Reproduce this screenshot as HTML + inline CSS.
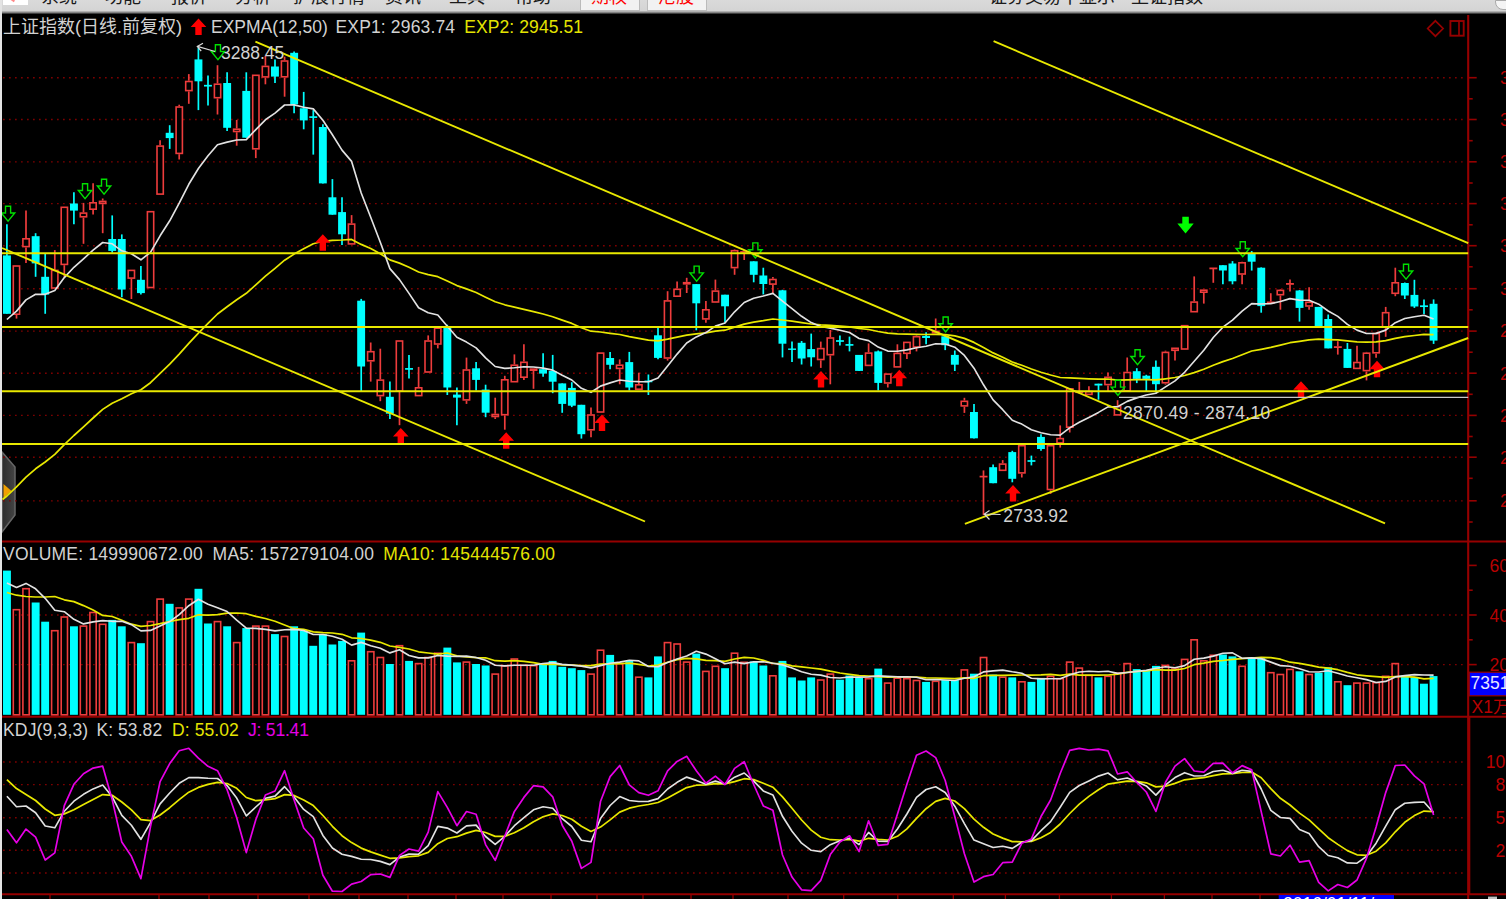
<!DOCTYPE html>
<html><head><meta charset="utf-8"><title>上证指数</title>
<style>
html,body{margin:0;padding:0;background:#000;}
body{width:1506px;height:899px;overflow:hidden;position:relative;font-family:"Liberation Sans","Noto Sans CJK SC",sans-serif;}
#top{position:absolute;left:0;top:0;width:1506px;height:14.5px;background:linear-gradient(#dadada 0,#d4d4d4 10.6px,#8a8a8a 12.4px,#000 14.4px);overflow:hidden;}
#top i{position:absolute;top:0;display:block;}
#top span{position:absolute;top:-12.3px;font-size:18px;line-height:18px;color:#1a1a1a;white-space:nowrap;}
#left{position:absolute;left:0;top:0;width:2.4px;height:899px;background:#e4e4e4;}
svg{position:absolute;left:0;top:0;}
.t{position:absolute;white-space:nowrap;font-size:17.5px;line-height:20px;color:#d2d2d2;}
</style></head><body>
<svg width="1506" height="899" viewBox="0 0 1506 899">
<defs><linearGradient id="tg" x1="0" x2="1" y1="0" y2="0"><stop offset="0" stop-color="#2c2c2c"/><stop offset="1" stop-color="#444"/></linearGradient></defs>
<path d="M2,452 L15,467 L15,515 L2,532 z" fill="url(#tg)" stroke="#666" stroke-width="1.5"/>
<path d="M3.5,484 L11.5,491 L3.5,498 z" fill="#f0a000"/>
<line x1="3" y1="77.7" x2="1464" y2="77.7" stroke="#7c0000" stroke-width="1.35" stroke-dasharray="1.7 4.3"/>
<line x1="3" y1="119.5" x2="1464" y2="119.5" stroke="#7c0000" stroke-width="1.35" stroke-dasharray="1.7 4.3"/>
<line x1="3" y1="161.8" x2="1464" y2="161.8" stroke="#7c0000" stroke-width="1.35" stroke-dasharray="1.7 4.3"/>
<line x1="3" y1="203.6" x2="1464" y2="203.6" stroke="#7c0000" stroke-width="1.35" stroke-dasharray="1.7 4.3"/>
<line x1="3" y1="245.7" x2="1464" y2="245.7" stroke="#7c0000" stroke-width="1.35" stroke-dasharray="1.7 4.3"/>
<line x1="3" y1="288.7" x2="1464" y2="288.7" stroke="#7c0000" stroke-width="1.35" stroke-dasharray="1.7 4.3"/>
<line x1="3" y1="331.1" x2="1464" y2="331.1" stroke="#7c0000" stroke-width="1.35" stroke-dasharray="1.7 4.3"/>
<line x1="3" y1="373.2" x2="1464" y2="373.2" stroke="#7c0000" stroke-width="1.35" stroke-dasharray="1.7 4.3"/>
<line x1="3" y1="415.4" x2="1464" y2="415.4" stroke="#7c0000" stroke-width="1.35" stroke-dasharray="1.7 4.3"/>
<line x1="3" y1="457.2" x2="1464" y2="457.2" stroke="#7c0000" stroke-width="1.35" stroke-dasharray="1.7 4.3"/>
<line x1="3" y1="500.8" x2="1464" y2="500.8" stroke="#7c0000" stroke-width="1.35" stroke-dasharray="1.7 4.3"/>
<line x1="3" y1="615.0" x2="1464" y2="615.0" stroke="#7c0000" stroke-width="1.35" stroke-dasharray="1.7 4.3"/>
<line x1="3" y1="664.6" x2="1464" y2="664.6" stroke="#7c0000" stroke-width="1.35" stroke-dasharray="1.7 4.3"/>
<line x1="3" y1="762.0" x2="1464" y2="762.0" stroke="#7c0000" stroke-width="1.35" stroke-dasharray="1.7 4.3"/>
<line x1="3" y1="784.6" x2="1464" y2="784.6" stroke="#7c0000" stroke-width="1.35" stroke-dasharray="1.7 4.3"/>
<line x1="3" y1="817.7" x2="1464" y2="817.7" stroke="#7c0000" stroke-width="1.35" stroke-dasharray="1.7 4.3"/>
<line x1="3" y1="850.2" x2="1464" y2="850.2" stroke="#7c0000" stroke-width="1.35" stroke-dasharray="1.7 4.3"/>
<line x1="3" y1="873.0" x2="1464" y2="873.0" stroke="#7c0000" stroke-width="1.35" stroke-dasharray="1.7 4.3"/>
<line x1="1468.2" y1="13" x2="1468.2" y2="899" stroke="#960000" stroke-width="2.1"/>
<line x1="2" y1="541.5" x2="1506" y2="541.5" stroke="#960000" stroke-width="2.1"/>
<line x1="2" y1="716.8" x2="1506" y2="716.8" stroke="#960000" stroke-width="2.1"/>
<line x1="2" y1="894.3" x2="1506" y2="894.3" stroke="#960000" stroke-width="2.1"/>
<line x1="1469.5" y1="717" x2="1469.5" y2="894" stroke="#960000" stroke-width="1.6"/>
<line x1="1468.2" y1="77.7" x2="1476.7" y2="77.7" stroke="#960000" stroke-width="1.6"/>
<line x1="1468.2" y1="98.8" x2="1472.7" y2="98.8" stroke="#960000" stroke-width="1.6"/>
<line x1="1468.2" y1="119.5" x2="1476.7" y2="119.5" stroke="#960000" stroke-width="1.6"/>
<line x1="1468.2" y1="140.7" x2="1472.7" y2="140.7" stroke="#960000" stroke-width="1.6"/>
<line x1="1468.2" y1="161.8" x2="1476.7" y2="161.8" stroke="#960000" stroke-width="1.6"/>
<line x1="1468.2" y1="183.0" x2="1472.7" y2="183.0" stroke="#960000" stroke-width="1.6"/>
<line x1="1468.2" y1="203.6" x2="1476.7" y2="203.6" stroke="#960000" stroke-width="1.6"/>
<line x1="1468.2" y1="224.8" x2="1472.7" y2="224.8" stroke="#960000" stroke-width="1.6"/>
<line x1="1468.2" y1="245.7" x2="1476.7" y2="245.7" stroke="#960000" stroke-width="1.6"/>
<line x1="1468.2" y1="266.8" x2="1472.7" y2="266.8" stroke="#960000" stroke-width="1.6"/>
<line x1="1468.2" y1="288.7" x2="1476.7" y2="288.7" stroke="#960000" stroke-width="1.6"/>
<line x1="1468.2" y1="309.8" x2="1472.7" y2="309.8" stroke="#960000" stroke-width="1.6"/>
<line x1="1468.2" y1="331.1" x2="1476.7" y2="331.1" stroke="#960000" stroke-width="1.6"/>
<line x1="1468.2" y1="352.2" x2="1472.7" y2="352.2" stroke="#960000" stroke-width="1.6"/>
<line x1="1468.2" y1="373.2" x2="1476.7" y2="373.2" stroke="#960000" stroke-width="1.6"/>
<line x1="1468.2" y1="394.3" x2="1472.7" y2="394.3" stroke="#960000" stroke-width="1.6"/>
<line x1="1468.2" y1="415.4" x2="1476.7" y2="415.4" stroke="#960000" stroke-width="1.6"/>
<line x1="1468.2" y1="436.5" x2="1472.7" y2="436.5" stroke="#960000" stroke-width="1.6"/>
<line x1="1468.2" y1="457.2" x2="1476.7" y2="457.2" stroke="#960000" stroke-width="1.6"/>
<line x1="1468.2" y1="478.3" x2="1472.7" y2="478.3" stroke="#960000" stroke-width="1.6"/>
<line x1="1468.2" y1="500.8" x2="1476.7" y2="500.8" stroke="#960000" stroke-width="1.6"/>
<line x1="1468.2" y1="522.0" x2="1472.7" y2="522.0" stroke="#960000" stroke-width="1.6"/>
<line x1="1468.2" y1="565.4" x2="1476.7" y2="565.4" stroke="#960000" stroke-width="1.6"/>
<line x1="1468.2" y1="615.0" x2="1476.7" y2="615.0" stroke="#960000" stroke-width="1.6"/>
<line x1="1468.2" y1="664.6" x2="1476.7" y2="664.6" stroke="#960000" stroke-width="1.6"/>
<line x1="1468.2" y1="590.2" x2="1472.7" y2="590.2" stroke="#960000" stroke-width="1.6"/>
<line x1="1468.2" y1="639.8" x2="1472.7" y2="639.8" stroke="#960000" stroke-width="1.6"/>
<line x1="1468.2" y1="689.4" x2="1472.7" y2="689.4" stroke="#960000" stroke-width="1.6"/>
<line x1="50" y1="894" x2="50" y2="899" stroke="#960000" stroke-width="1.3"/>
<line x1="159" y1="894" x2="159" y2="899" stroke="#960000" stroke-width="1.3"/>
<line x1="209" y1="894" x2="209" y2="899" stroke="#960000" stroke-width="1.3"/>
<line x1="258" y1="894" x2="258" y2="899" stroke="#960000" stroke-width="1.3"/>
<line x1="309" y1="894" x2="309" y2="899" stroke="#960000" stroke-width="1.3"/>
<line x1="359" y1="894" x2="359" y2="899" stroke="#960000" stroke-width="1.3"/>
<line x1="408" y1="894" x2="408" y2="899" stroke="#960000" stroke-width="1.3"/>
<line x1="456" y1="894" x2="456" y2="899" stroke="#960000" stroke-width="1.3"/>
<line x1="503" y1="894" x2="503" y2="899" stroke="#960000" stroke-width="1.3"/>
<line x1="551" y1="894" x2="551" y2="899" stroke="#960000" stroke-width="1.3"/>
<line x1="597" y1="894" x2="597" y2="899" stroke="#960000" stroke-width="1.3"/>
<line x1="643" y1="894" x2="643" y2="899" stroke="#960000" stroke-width="1.3"/>
<line x1="691" y1="894" x2="691" y2="899" stroke="#960000" stroke-width="1.3"/>
<line x1="733" y1="894" x2="733" y2="899" stroke="#960000" stroke-width="1.3"/>
<line x1="788" y1="894" x2="788" y2="899" stroke="#960000" stroke-width="1.3"/>
<line x1="843.7" y1="894" x2="843.7" y2="899" stroke="#960000" stroke-width="1.3"/>
<line x1="897.8" y1="894" x2="897.8" y2="899" stroke="#960000" stroke-width="1.3"/>
<line x1="953.3" y1="894" x2="953.3" y2="899" stroke="#960000" stroke-width="1.3"/>
<line x1="1005.4" y1="894" x2="1005.4" y2="899" stroke="#960000" stroke-width="1.3"/>
<line x1="1059.4" y1="894" x2="1059.4" y2="899" stroke="#960000" stroke-width="1.3"/>
<line x1="1111.4" y1="894" x2="1111.4" y2="899" stroke="#960000" stroke-width="1.3"/>
<line x1="1164.4" y1="894" x2="1164.4" y2="899" stroke="#960000" stroke-width="1.3"/>
<line x1="1212" y1="894" x2="1212" y2="899" stroke="#960000" stroke-width="1.3"/>
<line x1="1260" y1="894" x2="1260" y2="899" stroke="#960000" stroke-width="1.3"/>
<line x1="6.9" y1="224.3" x2="6.9" y2="313.8" stroke="#00ffff" stroke-width="1.7"/>
<rect x="3.0" y="255.4" width="7.9" height="58.4" fill="#00ffff"/>
<line x1="16.5" y1="315.0" x2="16.5" y2="318.6" stroke="#ee3c3c" stroke-width="1.7"/>
<rect x="13.3" y="266.0" width="6.3" height="48.2" fill="#000" stroke="#ee3c3c" stroke-width="1.6"/>
<line x1="26.0" y1="210.6" x2="26.0" y2="238.0" stroke="#ee3c3c" stroke-width="1.7"/>
<line x1="26.0" y1="247.4" x2="26.0" y2="262.9" stroke="#ee3c3c" stroke-width="1.7"/>
<rect x="22.9" y="238.8" width="6.3" height="7.8" fill="#000" stroke="#ee3c3c" stroke-width="1.6"/>
<line x1="35.6" y1="233.2" x2="35.6" y2="276.8" stroke="#00ffff" stroke-width="1.7"/>
<rect x="31.7" y="236.2" width="7.9" height="27.2" fill="#00ffff"/>
<line x1="45.2" y1="253.6" x2="45.2" y2="313.8" stroke="#00ffff" stroke-width="1.7"/>
<rect x="41.2" y="276.8" width="7.9" height="17.8" fill="#00ffff"/>
<line x1="54.8" y1="250.1" x2="54.8" y2="269.6" stroke="#ee3c3c" stroke-width="1.7"/>
<rect x="51.6" y="270.4" width="6.3" height="17.6" fill="#000" stroke="#ee3c3c" stroke-width="1.6"/>
<line x1="64.3" y1="265.2" x2="64.3" y2="276.8" stroke="#ee3c3c" stroke-width="1.7"/>
<rect x="61.2" y="207.3" width="6.3" height="57.1" fill="#000" stroke="#ee3c3c" stroke-width="1.6"/>
<line x1="73.9" y1="192.2" x2="73.9" y2="224.3" stroke="#00ffff" stroke-width="1.7"/>
<rect x="70.0" y="203.5" width="7.9" height="7.1" fill="#00ffff"/>
<line x1="83.5" y1="202.9" x2="83.5" y2="212.3" stroke="#ee3c3c" stroke-width="1.7"/>
<line x1="83.5" y1="217.7" x2="83.5" y2="243.8" stroke="#ee3c3c" stroke-width="1.7"/>
<rect x="80.3" y="213.1" width="6.3" height="3.7" fill="#000" stroke="#ee3c3c" stroke-width="1.6"/>
<line x1="93.1" y1="183.3" x2="93.1" y2="202.0" stroke="#ee3c3c" stroke-width="1.7"/>
<line x1="93.1" y1="210.0" x2="93.1" y2="214.5" stroke="#ee3c3c" stroke-width="1.7"/>
<rect x="89.9" y="202.8" width="6.3" height="6.4" fill="#000" stroke="#ee3c3c" stroke-width="1.6"/>
<line x1="102.7" y1="198.5" x2="102.7" y2="200.6" stroke="#ee3c3c" stroke-width="1.7"/>
<line x1="102.7" y1="204.2" x2="102.7" y2="233.2" stroke="#ee3c3c" stroke-width="1.7"/>
<rect x="99.5" y="201.4" width="6.3" height="2.0" fill="#000" stroke="#ee3c3c" stroke-width="1.6"/>
<line x1="112.2" y1="215.4" x2="112.2" y2="252.7" stroke="#00ffff" stroke-width="1.7"/>
<rect x="108.3" y="239.0" width="7.9" height="11.9" fill="#00ffff"/>
<line x1="121.8" y1="234.4" x2="121.8" y2="297.2" stroke="#00ffff" stroke-width="1.7"/>
<rect x="117.8" y="239.0" width="7.9" height="50.5" fill="#00ffff"/>
<line x1="131.4" y1="278.9" x2="131.4" y2="299.0" stroke="#ee3c3c" stroke-width="1.7"/>
<rect x="128.2" y="270.4" width="6.3" height="7.7" fill="#000" stroke="#ee3c3c" stroke-width="1.6"/>
<line x1="140.9" y1="266.1" x2="140.9" y2="294.6" stroke="#00ffff" stroke-width="1.7"/>
<rect x="137.0" y="279.8" width="7.9" height="13.3" fill="#00ffff"/>
<rect x="147.4" y="211.7" width="6.3" height="75.8" fill="#000" stroke="#ee3c3c" stroke-width="1.6"/>
<line x1="160.1" y1="140.3" x2="160.1" y2="145.3" stroke="#ee3c3c" stroke-width="1.7"/>
<rect x="157.0" y="146.1" width="6.3" height="48.0" fill="#000" stroke="#ee3c3c" stroke-width="1.6"/>
<line x1="169.7" y1="125.2" x2="169.7" y2="148.9" stroke="#00ffff" stroke-width="1.7"/>
<rect x="165.7" y="132.8" width="7.9" height="5.3" fill="#00ffff"/>
<line x1="179.2" y1="104.7" x2="179.2" y2="106.2" stroke="#ee3c3c" stroke-width="1.7"/>
<line x1="179.2" y1="154.2" x2="179.2" y2="159.5" stroke="#ee3c3c" stroke-width="1.7"/>
<rect x="176.1" y="107.0" width="6.3" height="46.4" fill="#000" stroke="#ee3c3c" stroke-width="1.6"/>
<line x1="188.8" y1="74.1" x2="188.8" y2="80.7" stroke="#ee3c3c" stroke-width="1.7"/>
<line x1="188.8" y1="91.4" x2="188.8" y2="103.8" stroke="#ee3c3c" stroke-width="1.7"/>
<rect x="185.7" y="81.5" width="6.3" height="9.1" fill="#000" stroke="#ee3c3c" stroke-width="1.6"/>
<line x1="198.4" y1="47.8" x2="198.4" y2="110.1" stroke="#00ffff" stroke-width="1.7"/>
<rect x="194.5" y="59.4" width="7.9" height="21.9" fill="#00ffff"/>
<line x1="208.0" y1="75.4" x2="208.0" y2="105.6" stroke="#00ffff" stroke-width="1.7"/>
<line x1="204.0" y1="85.7" x2="211.9" y2="85.7" stroke="#00ffff" stroke-width="1.7"/>
<line x1="217.5" y1="65.2" x2="217.5" y2="83.4" stroke="#ee3c3c" stroke-width="1.7"/>
<line x1="217.5" y1="98.5" x2="217.5" y2="114.5" stroke="#ee3c3c" stroke-width="1.7"/>
<rect x="214.4" y="84.2" width="6.3" height="13.5" fill="#000" stroke="#ee3c3c" stroke-width="1.6"/>
<line x1="227.1" y1="72.3" x2="227.1" y2="131.1" stroke="#00ffff" stroke-width="1.7"/>
<rect x="223.2" y="83.0" width="7.9" height="44.8" fill="#00ffff"/>
<line x1="236.7" y1="119.9" x2="236.7" y2="128.4" stroke="#ee3c3c" stroke-width="1.7"/>
<line x1="236.7" y1="132.3" x2="236.7" y2="145.7" stroke="#ee3c3c" stroke-width="1.7"/>
<rect x="233.6" y="129.2" width="6.3" height="2.3" fill="#000" stroke="#ee3c3c" stroke-width="1.6"/>
<line x1="246.3" y1="72.3" x2="246.3" y2="137.7" stroke="#00ffff" stroke-width="1.7"/>
<rect x="242.3" y="90.9" width="7.9" height="46.8" fill="#00ffff"/>
<line x1="255.8" y1="149.6" x2="255.8" y2="158.1" stroke="#ee3c3c" stroke-width="1.7"/>
<rect x="252.7" y="75.3" width="6.3" height="73.5" fill="#000" stroke="#ee3c3c" stroke-width="1.6"/>
<line x1="265.4" y1="55.8" x2="265.4" y2="65.6" stroke="#ee3c3c" stroke-width="1.7"/>
<line x1="265.4" y1="77.7" x2="265.4" y2="84.3" stroke="#ee3c3c" stroke-width="1.7"/>
<rect x="262.3" y="66.4" width="6.3" height="10.5" fill="#000" stroke="#ee3c3c" stroke-width="1.6"/>
<line x1="275.0" y1="59.4" x2="275.0" y2="83.0" stroke="#00ffff" stroke-width="1.7"/>
<rect x="271.0" y="66.5" width="7.9" height="10.1" fill="#00ffff"/>
<line x1="284.6" y1="56.7" x2="284.6" y2="60.2" stroke="#ee3c3c" stroke-width="1.7"/>
<line x1="284.6" y1="77.7" x2="284.6" y2="96.7" stroke="#ee3c3c" stroke-width="1.7"/>
<rect x="281.4" y="61.0" width="6.3" height="15.8" fill="#000" stroke="#ee3c3c" stroke-width="1.6"/>
<line x1="294.1" y1="51.4" x2="294.1" y2="113.3" stroke="#00ffff" stroke-width="1.7"/>
<rect x="290.2" y="52.8" width="7.9" height="51.6" fill="#00ffff"/>
<line x1="303.7" y1="91.9" x2="303.7" y2="129.3" stroke="#00ffff" stroke-width="1.7"/>
<rect x="299.8" y="108.3" width="7.9" height="12.1" fill="#00ffff"/>
<line x1="313.3" y1="110.1" x2="313.3" y2="154.6" stroke="#00ffff" stroke-width="1.7"/>
<line x1="309.3" y1="117.1" x2="317.2" y2="117.1" stroke="#00ffff" stroke-width="1.7"/>
<line x1="322.9" y1="124.3" x2="322.9" y2="183.4" stroke="#00ffff" stroke-width="1.7"/>
<rect x="318.9" y="127.0" width="7.9" height="56.4" fill="#00ffff"/>
<line x1="332.4" y1="179.1" x2="332.4" y2="214.7" stroke="#00ffff" stroke-width="1.7"/>
<rect x="328.5" y="197.3" width="7.9" height="17.4" fill="#00ffff"/>
<line x1="342.0" y1="197.3" x2="342.0" y2="245.0" stroke="#00ffff" stroke-width="1.7"/>
<rect x="338.1" y="212.1" width="7.9" height="22.2" fill="#00ffff"/>
<line x1="351.6" y1="215.1" x2="351.6" y2="223.3" stroke="#ee3c3c" stroke-width="1.7"/>
<rect x="348.4" y="224.1" width="6.3" height="19.8" fill="#000" stroke="#ee3c3c" stroke-width="1.6"/>
<line x1="361.2" y1="298.9" x2="361.2" y2="391.4" stroke="#00ffff" stroke-width="1.7"/>
<rect x="357.2" y="300.7" width="7.9" height="65.8" fill="#00ffff"/>
<line x1="370.7" y1="342.5" x2="370.7" y2="350.9" stroke="#ee3c3c" stroke-width="1.7"/>
<line x1="370.7" y1="361.5" x2="370.7" y2="381.6" stroke="#ee3c3c" stroke-width="1.7"/>
<rect x="367.6" y="351.7" width="6.3" height="9.1" fill="#000" stroke="#ee3c3c" stroke-width="1.6"/>
<line x1="380.3" y1="348.7" x2="380.3" y2="379.3" stroke="#ee3c3c" stroke-width="1.7"/>
<line x1="380.3" y1="396.4" x2="380.3" y2="401.2" stroke="#ee3c3c" stroke-width="1.7"/>
<rect x="377.2" y="380.1" width="6.3" height="15.5" fill="#000" stroke="#ee3c3c" stroke-width="1.6"/>
<line x1="389.9" y1="381.6" x2="389.9" y2="419.0" stroke="#00ffff" stroke-width="1.7"/>
<rect x="385.9" y="396.8" width="7.9" height="16.9" fill="#00ffff"/>
<line x1="399.5" y1="391.8" x2="399.5" y2="425.2" stroke="#ee3c3c" stroke-width="1.7"/>
<rect x="396.3" y="341.0" width="6.3" height="50.0" fill="#000" stroke="#ee3c3c" stroke-width="1.6"/>
<line x1="409.0" y1="354.9" x2="409.0" y2="378.6" stroke="#00ffff" stroke-width="1.7"/>
<line x1="405.1" y1="368.9" x2="413.0" y2="368.9" stroke="#00ffff" stroke-width="1.7"/>
<line x1="418.6" y1="366.9" x2="418.6" y2="387.0" stroke="#ee3c3c" stroke-width="1.7"/>
<rect x="415.5" y="387.8" width="6.3" height="7.8" fill="#000" stroke="#ee3c3c" stroke-width="1.6"/>
<line x1="428.2" y1="335.4" x2="428.2" y2="340.2" stroke="#ee3c3c" stroke-width="1.7"/>
<rect x="425.0" y="341.0" width="6.3" height="31.0" fill="#000" stroke="#ee3c3c" stroke-width="1.6"/>
<line x1="437.8" y1="344.8" x2="437.8" y2="348.4" stroke="#ee3c3c" stroke-width="1.7"/>
<rect x="434.6" y="328.2" width="6.3" height="15.8" fill="#000" stroke="#ee3c3c" stroke-width="1.6"/>
<line x1="447.3" y1="324.7" x2="447.3" y2="395.0" stroke="#00ffff" stroke-width="1.7"/>
<rect x="443.4" y="326.5" width="7.9" height="61.0" fill="#00ffff"/>
<line x1="456.9" y1="387.5" x2="456.9" y2="425.2" stroke="#00ffff" stroke-width="1.7"/>
<rect x="453.0" y="394.6" width="7.9" height="3.0" fill="#00ffff"/>
<line x1="466.5" y1="357.6" x2="466.5" y2="369.2" stroke="#ee3c3c" stroke-width="1.7"/>
<line x1="466.5" y1="400.7" x2="466.5" y2="403.9" stroke="#ee3c3c" stroke-width="1.7"/>
<rect x="463.3" y="370.0" width="6.3" height="29.9" fill="#000" stroke="#ee3c3c" stroke-width="1.6"/>
<line x1="476.1" y1="362.1" x2="476.1" y2="390.5" stroke="#00ffff" stroke-width="1.7"/>
<rect x="472.1" y="368.3" width="7.9" height="11.6" fill="#00ffff"/>
<line x1="485.6" y1="384.7" x2="485.6" y2="417.2" stroke="#00ffff" stroke-width="1.7"/>
<rect x="481.7" y="389.6" width="7.9" height="23.1" fill="#00ffff"/>
<line x1="495.2" y1="397.7" x2="495.2" y2="413.7" stroke="#ee3c3c" stroke-width="1.7"/>
<line x1="495.2" y1="417.2" x2="495.2" y2="419.0" stroke="#ee3c3c" stroke-width="1.7"/>
<rect x="492.1" y="414.5" width="6.3" height="2.0" fill="#000" stroke="#ee3c3c" stroke-width="1.6"/>
<line x1="504.8" y1="375.8" x2="504.8" y2="379.0" stroke="#ee3c3c" stroke-width="1.7"/>
<line x1="504.8" y1="415.4" x2="504.8" y2="429.7" stroke="#ee3c3c" stroke-width="1.7"/>
<rect x="501.6" y="379.8" width="6.3" height="34.9" fill="#000" stroke="#ee3c3c" stroke-width="1.6"/>
<line x1="514.4" y1="354.4" x2="514.4" y2="364.4" stroke="#ee3c3c" stroke-width="1.7"/>
<rect x="511.2" y="365.2" width="6.3" height="16.5" fill="#000" stroke="#ee3c3c" stroke-width="1.6"/>
<line x1="523.9" y1="344.3" x2="523.9" y2="361.5" stroke="#ee3c3c" stroke-width="1.7"/>
<line x1="523.9" y1="378.1" x2="523.9" y2="379.9" stroke="#ee3c3c" stroke-width="1.7"/>
<rect x="520.8" y="362.3" width="6.3" height="14.9" fill="#000" stroke="#ee3c3c" stroke-width="1.6"/>
<line x1="533.5" y1="371.0" x2="533.5" y2="388.8" stroke="#ee3c3c" stroke-width="1.7"/>
<rect x="530.4" y="369.1" width="6.3" height="1.1" fill="#000" stroke="#ee3c3c" stroke-width="1.6"/>
<line x1="543.1" y1="353.2" x2="543.1" y2="376.8" stroke="#00ffff" stroke-width="1.7"/>
<rect x="539.1" y="369.2" width="7.9" height="4.4" fill="#00ffff"/>
<line x1="552.7" y1="354.9" x2="552.7" y2="393.2" stroke="#00ffff" stroke-width="1.7"/>
<rect x="548.7" y="371.0" width="7.9" height="10.7" fill="#00ffff"/>
<line x1="562.2" y1="383.4" x2="562.2" y2="412.8" stroke="#00ffff" stroke-width="1.7"/>
<rect x="558.3" y="383.4" width="7.9" height="20.5" fill="#00ffff"/>
<line x1="571.8" y1="382.2" x2="571.8" y2="407.1" stroke="#00ffff" stroke-width="1.7"/>
<rect x="567.9" y="387.9" width="7.9" height="17.8" fill="#00ffff"/>
<line x1="581.4" y1="404.8" x2="581.4" y2="438.6" stroke="#00ffff" stroke-width="1.7"/>
<rect x="577.4" y="404.8" width="7.9" height="29.4" fill="#00ffff"/>
<line x1="591.0" y1="407.4" x2="591.0" y2="414.2" stroke="#ee3c3c" stroke-width="1.7"/>
<line x1="591.0" y1="430.6" x2="591.0" y2="437.3" stroke="#ee3c3c" stroke-width="1.7"/>
<rect x="587.8" y="415.0" width="6.3" height="14.8" fill="#000" stroke="#ee3c3c" stroke-width="1.6"/>
<rect x="597.4" y="353.1" width="6.3" height="58.9" fill="#000" stroke="#ee3c3c" stroke-width="1.6"/>
<line x1="610.1" y1="351.9" x2="610.1" y2="369.2" stroke="#00ffff" stroke-width="1.7"/>
<rect x="606.2" y="358.0" width="7.9" height="6.8" fill="#00ffff"/>
<line x1="619.7" y1="359.4" x2="619.7" y2="364.4" stroke="#ee3c3c" stroke-width="1.7"/>
<line x1="619.7" y1="369.2" x2="619.7" y2="384.3" stroke="#ee3c3c" stroke-width="1.7"/>
<rect x="616.5" y="365.2" width="6.3" height="3.2" fill="#000" stroke="#ee3c3c" stroke-width="1.6"/>
<line x1="629.3" y1="351.9" x2="629.3" y2="390.5" stroke="#00ffff" stroke-width="1.7"/>
<rect x="625.3" y="362.1" width="7.9" height="25.4" fill="#00ffff"/>
<line x1="638.8" y1="372.7" x2="638.8" y2="384.0" stroke="#ee3c3c" stroke-width="1.7"/>
<rect x="635.7" y="384.8" width="6.3" height="4.4" fill="#000" stroke="#ee3c3c" stroke-width="1.6"/>
<line x1="648.4" y1="374.5" x2="648.4" y2="395.0" stroke="#00ffff" stroke-width="1.7"/>
<line x1="644.5" y1="381.4" x2="652.4" y2="381.4" stroke="#00ffff" stroke-width="1.7"/>
<line x1="658.0" y1="327.7" x2="658.0" y2="359.3" stroke="#00ffff" stroke-width="1.7"/>
<rect x="654.0" y="335.3" width="7.9" height="22.6" fill="#00ffff"/>
<line x1="667.6" y1="291.2" x2="667.6" y2="300.1" stroke="#ee3c3c" stroke-width="1.7"/>
<line x1="667.6" y1="358.8" x2="667.6" y2="360.6" stroke="#ee3c3c" stroke-width="1.7"/>
<rect x="664.4" y="300.9" width="6.3" height="57.1" fill="#000" stroke="#ee3c3c" stroke-width="1.6"/>
<line x1="677.1" y1="281.4" x2="677.1" y2="288.5" stroke="#ee3c3c" stroke-width="1.7"/>
<rect x="674.0" y="289.3" width="6.3" height="6.9" fill="#000" stroke="#ee3c3c" stroke-width="1.6"/>
<line x1="686.7" y1="277.8" x2="686.7" y2="281.9" stroke="#ee3c3c" stroke-width="1.7"/>
<line x1="686.7" y1="284.6" x2="686.7" y2="293.0" stroke="#ee3c3c" stroke-width="1.7"/>
<rect x="683.6" y="282.7" width="6.3" height="1.1" fill="#000" stroke="#ee3c3c" stroke-width="1.6"/>
<line x1="696.3" y1="284.1" x2="696.3" y2="330.3" stroke="#00ffff" stroke-width="1.7"/>
<rect x="692.3" y="284.1" width="7.9" height="19.2" fill="#00ffff"/>
<line x1="705.9" y1="301.0" x2="705.9" y2="309.0" stroke="#ee3c3c" stroke-width="1.7"/>
<line x1="705.9" y1="319.6" x2="705.9" y2="322.8" stroke="#ee3c3c" stroke-width="1.7"/>
<rect x="702.7" y="309.8" width="6.3" height="9.1" fill="#000" stroke="#ee3c3c" stroke-width="1.6"/>
<line x1="715.4" y1="279.6" x2="715.4" y2="290.3" stroke="#ee3c3c" stroke-width="1.7"/>
<rect x="712.3" y="291.1" width="6.3" height="10.9" fill="#000" stroke="#ee3c3c" stroke-width="1.6"/>
<line x1="725.0" y1="294.7" x2="725.0" y2="322.8" stroke="#00ffff" stroke-width="1.7"/>
<rect x="721.1" y="294.7" width="7.9" height="11.6" fill="#00ffff"/>
<line x1="734.6" y1="249.4" x2="734.6" y2="249.9" stroke="#ee3c3c" stroke-width="1.7"/>
<line x1="734.6" y1="268.4" x2="734.6" y2="274.8" stroke="#ee3c3c" stroke-width="1.7"/>
<rect x="731.4" y="250.7" width="6.3" height="16.9" fill="#000" stroke="#ee3c3c" stroke-width="1.6"/>
<line x1="744.2" y1="250.2" x2="744.2" y2="251.1" stroke="#ee3c3c" stroke-width="1.7"/>
<line x1="744.2" y1="252.9" x2="744.2" y2="260.0" stroke="#ee3c3c" stroke-width="1.7"/>
<rect x="741.0" y="251.9" width="6.3" height="0.2" fill="#000" stroke="#ee3c3c" stroke-width="1.6"/>
<line x1="753.7" y1="261.3" x2="753.7" y2="282.3" stroke="#00ffff" stroke-width="1.7"/>
<rect x="749.8" y="261.3" width="7.9" height="13.5" fill="#00ffff"/>
<line x1="763.3" y1="267.7" x2="763.3" y2="294.4" stroke="#00ffff" stroke-width="1.7"/>
<rect x="759.4" y="275.5" width="7.9" height="8.5" fill="#00ffff"/>
<line x1="772.9" y1="276.9" x2="772.9" y2="278.7" stroke="#ee3c3c" stroke-width="1.7"/>
<line x1="772.9" y1="284.9" x2="772.9" y2="293.0" stroke="#ee3c3c" stroke-width="1.7"/>
<rect x="769.7" y="279.5" width="6.3" height="4.6" fill="#000" stroke="#ee3c3c" stroke-width="1.6"/>
<line x1="782.5" y1="289.8" x2="782.5" y2="357.4" stroke="#00ffff" stroke-width="1.7"/>
<rect x="778.5" y="290.3" width="7.9" height="53.4" fill="#00ffff"/>
<line x1="792.0" y1="341.4" x2="792.0" y2="362.0" stroke="#00ffff" stroke-width="1.7"/>
<rect x="788.1" y="348.5" width="7.9" height="1.4" fill="#00ffff"/>
<line x1="801.6" y1="341.0" x2="801.6" y2="364.5" stroke="#00ffff" stroke-width="1.7"/>
<rect x="797.7" y="342.8" width="7.9" height="15.7" fill="#00ffff"/>
<line x1="811.2" y1="333.6" x2="811.2" y2="366.5" stroke="#00ffff" stroke-width="1.7"/>
<rect x="807.2" y="349.1" width="7.9" height="8.2" fill="#00ffff"/>
<line x1="820.8" y1="341.6" x2="820.8" y2="347.8" stroke="#ee3c3c" stroke-width="1.7"/>
<line x1="820.8" y1="360.3" x2="820.8" y2="367.9" stroke="#ee3c3c" stroke-width="1.7"/>
<rect x="817.6" y="348.6" width="6.3" height="10.9" fill="#000" stroke="#ee3c3c" stroke-width="1.6"/>
<line x1="830.3" y1="330.0" x2="830.3" y2="337.2" stroke="#ee3c3c" stroke-width="1.7"/>
<line x1="830.3" y1="355.5" x2="830.3" y2="384.3" stroke="#ee3c3c" stroke-width="1.7"/>
<rect x="827.2" y="338.0" width="6.3" height="16.7" fill="#000" stroke="#ee3c3c" stroke-width="1.6"/>
<line x1="839.9" y1="335.4" x2="839.9" y2="345.5" stroke="#00ffff" stroke-width="1.7"/>
<line x1="836.0" y1="341.0" x2="843.9" y2="341.0" stroke="#00ffff" stroke-width="1.7"/>
<line x1="849.5" y1="336.6" x2="849.5" y2="351.4" stroke="#00ffff" stroke-width="1.7"/>
<line x1="845.5" y1="344.9" x2="853.4" y2="344.9" stroke="#00ffff" stroke-width="1.7"/>
<line x1="859.1" y1="354.9" x2="859.1" y2="371.0" stroke="#00ffff" stroke-width="1.7"/>
<rect x="855.1" y="354.9" width="7.9" height="16.0" fill="#00ffff"/>
<line x1="868.6" y1="343.4" x2="868.6" y2="352.3" stroke="#ee3c3c" stroke-width="1.7"/>
<rect x="865.5" y="353.1" width="6.3" height="12.3" fill="#000" stroke="#ee3c3c" stroke-width="1.6"/>
<line x1="878.2" y1="350.5" x2="878.2" y2="390.5" stroke="#00ffff" stroke-width="1.7"/>
<rect x="874.3" y="351.4" width="7.9" height="31.5" fill="#00ffff"/>
<line x1="887.8" y1="383.8" x2="887.8" y2="387.5" stroke="#ee3c3c" stroke-width="1.7"/>
<rect x="884.6" y="374.1" width="6.3" height="8.9" fill="#000" stroke="#ee3c3c" stroke-width="1.6"/>
<line x1="897.4" y1="344.3" x2="897.4" y2="352.6" stroke="#ee3c3c" stroke-width="1.7"/>
<rect x="894.2" y="353.4" width="6.3" height="13.5" fill="#000" stroke="#ee3c3c" stroke-width="1.6"/>
<line x1="906.9" y1="354.1" x2="906.9" y2="359.0" stroke="#ee3c3c" stroke-width="1.7"/>
<rect x="903.8" y="342.4" width="6.3" height="10.9" fill="#000" stroke="#ee3c3c" stroke-width="1.6"/>
<line x1="916.5" y1="335.4" x2="916.5" y2="335.9" stroke="#ee3c3c" stroke-width="1.7"/>
<line x1="916.5" y1="347.8" x2="916.5" y2="351.4" stroke="#ee3c3c" stroke-width="1.7"/>
<rect x="913.4" y="336.7" width="6.3" height="10.3" fill="#000" stroke="#ee3c3c" stroke-width="1.6"/>
<line x1="926.1" y1="332.3" x2="926.1" y2="344.3" stroke="#00ffff" stroke-width="1.7"/>
<rect x="922.1" y="335.9" width="7.9" height="2.1" fill="#00ffff"/>
<line x1="935.7" y1="318.5" x2="935.7" y2="330.6" stroke="#ee3c3c" stroke-width="1.7"/>
<rect x="932.5" y="331.4" width="6.3" height="1.4" fill="#000" stroke="#ee3c3c" stroke-width="1.6"/>
<line x1="945.2" y1="335.4" x2="945.2" y2="350.1" stroke="#00ffff" stroke-width="1.7"/>
<rect x="941.3" y="336.3" width="7.9" height="8.9" fill="#00ffff"/>
<line x1="954.8" y1="350.5" x2="954.8" y2="371.0" stroke="#00ffff" stroke-width="1.7"/>
<rect x="950.9" y="354.9" width="7.9" height="9.8" fill="#00ffff"/>
<line x1="964.4" y1="397.8" x2="964.4" y2="400.5" stroke="#ee3c3c" stroke-width="1.7"/>
<line x1="964.4" y1="406.7" x2="964.4" y2="412.9" stroke="#ee3c3c" stroke-width="1.7"/>
<rect x="961.2" y="401.3" width="6.3" height="4.6" fill="#000" stroke="#ee3c3c" stroke-width="1.6"/>
<line x1="974.0" y1="404.0" x2="974.0" y2="438.4" stroke="#00ffff" stroke-width="1.7"/>
<rect x="970.0" y="412.0" width="7.9" height="26.3" fill="#00ffff"/>
<line x1="983.5" y1="470.4" x2="983.5" y2="515.2" stroke="#ee3c3c" stroke-width="1.7"/>
<line x1="979.6" y1="476.6" x2="987.5" y2="476.6" stroke="#ee3c3c" stroke-width="1.7"/>
<line x1="993.1" y1="464.5" x2="993.1" y2="483.2" stroke="#00ffff" stroke-width="1.7"/>
<rect x="989.2" y="467.2" width="7.9" height="16.0" fill="#00ffff"/>
<line x1="1002.7" y1="460.1" x2="1002.7" y2="463.3" stroke="#ee3c3c" stroke-width="1.7"/>
<rect x="999.5" y="464.1" width="6.3" height="6.2" fill="#000" stroke="#ee3c3c" stroke-width="1.6"/>
<line x1="1012.3" y1="450.8" x2="1012.3" y2="482.3" stroke="#00ffff" stroke-width="1.7"/>
<rect x="1008.3" y="452.1" width="7.9" height="26.7" fill="#00ffff"/>
<line x1="1021.8" y1="473.8" x2="1021.8" y2="477.5" stroke="#ee3c3c" stroke-width="1.7"/>
<rect x="1018.7" y="445.7" width="6.3" height="27.2" fill="#000" stroke="#ee3c3c" stroke-width="1.6"/>
<line x1="1031.4" y1="455.6" x2="1031.4" y2="465.4" stroke="#00ffff" stroke-width="1.7"/>
<line x1="1027.5" y1="461.0" x2="1035.4" y2="461.0" stroke="#00ffff" stroke-width="1.7"/>
<line x1="1041.0" y1="434.3" x2="1041.0" y2="450.8" stroke="#00ffff" stroke-width="1.7"/>
<rect x="1037.0" y="436.9" width="7.9" height="12.1" fill="#00ffff"/>
<line x1="1050.6" y1="490.3" x2="1050.6" y2="493.9" stroke="#ee3c3c" stroke-width="1.7"/>
<rect x="1047.4" y="445.7" width="6.3" height="43.8" fill="#000" stroke="#ee3c3c" stroke-width="1.6"/>
<line x1="1060.2" y1="425.4" x2="1060.2" y2="437.8" stroke="#ee3c3c" stroke-width="1.7"/>
<line x1="1060.2" y1="443.7" x2="1060.2" y2="447.6" stroke="#ee3c3c" stroke-width="1.7"/>
<rect x="1057.0" y="438.6" width="6.3" height="4.3" fill="#000" stroke="#ee3c3c" stroke-width="1.6"/>
<line x1="1069.7" y1="428.0" x2="1069.7" y2="432.5" stroke="#ee3c3c" stroke-width="1.7"/>
<rect x="1066.6" y="388.8" width="6.3" height="38.4" fill="#000" stroke="#ee3c3c" stroke-width="1.6"/>
<line x1="1079.3" y1="381.9" x2="1079.3" y2="390.8" stroke="#ee3c3c" stroke-width="1.7"/>
<line x1="1079.3" y1="393.1" x2="1079.3" y2="393.5" stroke="#ee3c3c" stroke-width="1.7"/>
<rect x="1076.1" y="391.6" width="6.3" height="0.7" fill="#000" stroke="#ee3c3c" stroke-width="1.6"/>
<line x1="1088.9" y1="386.3" x2="1088.9" y2="390.8" stroke="#ee3c3c" stroke-width="1.7"/>
<rect x="1085.7" y="391.6" width="6.3" height="2.8" fill="#000" stroke="#ee3c3c" stroke-width="1.6"/>
<line x1="1098.5" y1="383.7" x2="1098.5" y2="399.7" stroke="#00ffff" stroke-width="1.7"/>
<rect x="1094.5" y="383.7" width="7.9" height="1.8" fill="#00ffff"/>
<line x1="1108.0" y1="372.5" x2="1108.0" y2="376.5" stroke="#ee3c3c" stroke-width="1.7"/>
<line x1="1108.0" y1="385.4" x2="1108.0" y2="391.7" stroke="#ee3c3c" stroke-width="1.7"/>
<rect x="1104.9" y="377.3" width="6.3" height="7.3" fill="#000" stroke="#ee3c3c" stroke-width="1.6"/>
<line x1="1117.6" y1="400.2" x2="1117.6" y2="405.9" stroke="#ee3c3c" stroke-width="1.7"/>
<rect x="1114.4" y="406.7" width="6.3" height="8.2" fill="#000" stroke="#ee3c3c" stroke-width="1.6"/>
<line x1="1127.2" y1="357.5" x2="1127.2" y2="371.7" stroke="#ee3c3c" stroke-width="1.7"/>
<rect x="1124.0" y="372.5" width="6.3" height="18.3" fill="#000" stroke="#ee3c3c" stroke-width="1.6"/>
<line x1="1136.8" y1="368.2" x2="1136.8" y2="383.1" stroke="#00ffff" stroke-width="1.7"/>
<rect x="1132.8" y="371.2" width="7.9" height="7.7" fill="#00ffff"/>
<line x1="1146.3" y1="374.8" x2="1146.3" y2="391.7" stroke="#00ffff" stroke-width="1.7"/>
<rect x="1142.4" y="375.7" width="7.9" height="3.2" fill="#00ffff"/>
<line x1="1155.9" y1="360.5" x2="1155.9" y2="392.6" stroke="#00ffff" stroke-width="1.7"/>
<rect x="1152.0" y="366.8" width="7.9" height="17.4" fill="#00ffff"/>
<line x1="1165.5" y1="350.7" x2="1165.5" y2="351.6" stroke="#ee3c3c" stroke-width="1.7"/>
<line x1="1165.5" y1="383.7" x2="1165.5" y2="384.6" stroke="#ee3c3c" stroke-width="1.7"/>
<rect x="1162.3" y="352.4" width="6.3" height="30.4" fill="#000" stroke="#ee3c3c" stroke-width="1.6"/>
<line x1="1175.0" y1="351.1" x2="1175.0" y2="360.5" stroke="#ee3c3c" stroke-width="1.7"/>
<rect x="1171.9" y="348.3" width="6.3" height="2.0" fill="#000" stroke="#ee3c3c" stroke-width="1.6"/>
<rect x="1181.5" y="325.7" width="6.3" height="23.3" fill="#000" stroke="#ee3c3c" stroke-width="1.6"/>
<line x1="1194.2" y1="276.4" x2="1194.2" y2="301.3" stroke="#ee3c3c" stroke-width="1.7"/>
<rect x="1191.0" y="302.1" width="6.3" height="9.6" fill="#000" stroke="#ee3c3c" stroke-width="1.6"/>
<line x1="1203.8" y1="292.9" x2="1203.8" y2="303.6" stroke="#ee3c3c" stroke-width="1.7"/>
<rect x="1200.6" y="290.2" width="6.3" height="2.0" fill="#000" stroke="#ee3c3c" stroke-width="1.6"/>
<line x1="1213.3" y1="268.9" x2="1213.3" y2="282.8" stroke="#ee3c3c" stroke-width="1.7"/>
<rect x="1210.2" y="268.3" width="6.3" height="0.2" fill="#000" stroke="#ee3c3c" stroke-width="1.6"/>
<line x1="1222.9" y1="265.2" x2="1222.9" y2="284.3" stroke="#00ffff" stroke-width="1.7"/>
<rect x="1219.0" y="265.2" width="7.9" height="5.3" fill="#00ffff"/>
<line x1="1232.5" y1="261.1" x2="1232.5" y2="284.3" stroke="#00ffff" stroke-width="1.7"/>
<rect x="1228.5" y="263.5" width="7.9" height="17.8" fill="#00ffff"/>
<line x1="1242.1" y1="261.7" x2="1242.1" y2="262.0" stroke="#ee3c3c" stroke-width="1.7"/>
<line x1="1242.1" y1="274.8" x2="1242.1" y2="284.3" stroke="#ee3c3c" stroke-width="1.7"/>
<rect x="1238.9" y="262.8" width="6.3" height="11.2" fill="#000" stroke="#ee3c3c" stroke-width="1.6"/>
<line x1="1251.7" y1="251.0" x2="1251.7" y2="270.6" stroke="#00ffff" stroke-width="1.7"/>
<rect x="1247.7" y="254.0" width="7.9" height="7.7" fill="#00ffff"/>
<line x1="1261.2" y1="267.4" x2="1261.2" y2="312.7" stroke="#00ffff" stroke-width="1.7"/>
<rect x="1257.3" y="267.7" width="7.9" height="38.4" fill="#00ffff"/>
<line x1="1270.8" y1="293.2" x2="1270.8" y2="301.5" stroke="#ee3c3c" stroke-width="1.7"/>
<rect x="1267.6" y="302.3" width="6.3" height="0.7" fill="#000" stroke="#ee3c3c" stroke-width="1.6"/>
<line x1="1280.4" y1="289.1" x2="1280.4" y2="289.6" stroke="#ee3c3c" stroke-width="1.7"/>
<line x1="1280.4" y1="295.5" x2="1280.4" y2="309.7" stroke="#ee3c3c" stroke-width="1.7"/>
<rect x="1277.2" y="290.4" width="6.3" height="4.3" fill="#000" stroke="#ee3c3c" stroke-width="1.6"/>
<line x1="1290.0" y1="279.5" x2="1290.0" y2="283.0" stroke="#ee3c3c" stroke-width="1.7"/>
<line x1="1290.0" y1="284.4" x2="1290.0" y2="291.4" stroke="#ee3c3c" stroke-width="1.7"/>
<rect x="1286.8" y="283.8" width="6.3" height="0.2" fill="#000" stroke="#ee3c3c" stroke-width="1.6"/>
<line x1="1299.5" y1="290.1" x2="1299.5" y2="321.6" stroke="#00ffff" stroke-width="1.7"/>
<rect x="1295.6" y="290.5" width="7.9" height="17.4" fill="#00ffff"/>
<line x1="1309.1" y1="287.3" x2="1309.1" y2="301.5" stroke="#ee3c3c" stroke-width="1.7"/>
<line x1="1309.1" y1="306.9" x2="1309.1" y2="309.7" stroke="#ee3c3c" stroke-width="1.7"/>
<rect x="1305.9" y="302.3" width="6.3" height="3.7" fill="#000" stroke="#ee3c3c" stroke-width="1.6"/>
<line x1="1318.7" y1="306.9" x2="1318.7" y2="326.1" stroke="#00ffff" stroke-width="1.7"/>
<rect x="1314.7" y="306.9" width="7.9" height="19.2" fill="#00ffff"/>
<line x1="1328.2" y1="314.5" x2="1328.2" y2="348.3" stroke="#00ffff" stroke-width="1.7"/>
<rect x="1324.3" y="319.0" width="7.9" height="29.4" fill="#00ffff"/>
<line x1="1337.8" y1="341.2" x2="1337.8" y2="346.2" stroke="#ee3c3c" stroke-width="1.7"/>
<line x1="1337.8" y1="347.6" x2="1337.8" y2="354.6" stroke="#ee3c3c" stroke-width="1.7"/>
<rect x="1334.7" y="347.0" width="6.3" height="0.2" fill="#000" stroke="#ee3c3c" stroke-width="1.6"/>
<line x1="1347.4" y1="343.0" x2="1347.4" y2="367.9" stroke="#00ffff" stroke-width="1.7"/>
<rect x="1343.5" y="348.9" width="7.9" height="19.0" fill="#00ffff"/>
<line x1="1357.0" y1="345.7" x2="1357.0" y2="361.7" stroke="#ee3c3c" stroke-width="1.7"/>
<rect x="1353.8" y="362.5" width="6.3" height="5.9" fill="#000" stroke="#ee3c3c" stroke-width="1.6"/>
<line x1="1366.5" y1="351.9" x2="1366.5" y2="352.4" stroke="#ee3c3c" stroke-width="1.7"/>
<line x1="1366.5" y1="371.5" x2="1366.5" y2="380.4" stroke="#ee3c3c" stroke-width="1.7"/>
<rect x="1363.4" y="353.2" width="6.3" height="17.4" fill="#000" stroke="#ee3c3c" stroke-width="1.6"/>
<line x1="1376.1" y1="332.3" x2="1376.1" y2="332.8" stroke="#ee3c3c" stroke-width="1.7"/>
<line x1="1376.1" y1="353.7" x2="1376.1" y2="357.8" stroke="#ee3c3c" stroke-width="1.7"/>
<rect x="1373.0" y="333.6" width="6.3" height="19.2" fill="#000" stroke="#ee3c3c" stroke-width="1.6"/>
<line x1="1385.7" y1="306.9" x2="1385.7" y2="311.9" stroke="#ee3c3c" stroke-width="1.7"/>
<line x1="1385.7" y1="327.5" x2="1385.7" y2="336.8" stroke="#ee3c3c" stroke-width="1.7"/>
<rect x="1382.5" y="312.7" width="6.3" height="14.1" fill="#000" stroke="#ee3c3c" stroke-width="1.6"/>
<line x1="1395.3" y1="267.7" x2="1395.3" y2="282.0" stroke="#ee3c3c" stroke-width="1.7"/>
<line x1="1395.3" y1="294.1" x2="1395.3" y2="296.2" stroke="#ee3c3c" stroke-width="1.7"/>
<rect x="1392.1" y="282.8" width="6.3" height="10.5" fill="#000" stroke="#ee3c3c" stroke-width="1.6"/>
<line x1="1404.8" y1="282.5" x2="1404.8" y2="299.0" stroke="#00ffff" stroke-width="1.7"/>
<rect x="1400.9" y="283.0" width="7.9" height="12.5" fill="#00ffff"/>
<line x1="1414.4" y1="279.8" x2="1414.4" y2="307.9" stroke="#00ffff" stroke-width="1.7"/>
<rect x="1410.5" y="294.9" width="7.9" height="11.6" fill="#00ffff"/>
<line x1="1424.0" y1="299.4" x2="1424.0" y2="314.0" stroke="#00ffff" stroke-width="1.7"/>
<line x1="1420.0" y1="306.2" x2="1428.0" y2="306.2" stroke="#00ffff" stroke-width="1.7"/>
<line x1="1433.6" y1="299.4" x2="1433.6" y2="343.9" stroke="#00ffff" stroke-width="1.7"/>
<rect x="1429.6" y="303.8" width="7.9" height="36.8" fill="#00ffff"/>
<polyline fill="none" stroke="#e8e800" stroke-width="1.7" stroke-linejoin="round" points="2.5,499.5 6.9,496.0 16.5,486.9 26.0,477.2 35.6,468.8 45.2,462.0 54.8,454.4 64.3,444.7 73.9,435.5 83.5,426.8 93.1,418.0 102.7,409.4 112.2,403.2 121.8,398.8 131.4,393.7 140.9,389.8 150.5,382.7 160.1,373.4 169.7,364.2 179.2,354.1 188.8,343.4 198.4,333.1 208.0,323.4 217.5,314.0 227.1,306.7 236.7,299.7 246.3,293.3 255.8,284.8 265.4,276.2 275.0,268.3 284.6,260.2 294.1,254.1 303.7,248.8 313.3,243.7 322.9,241.3 332.4,240.3 342.0,240.0 351.6,239.4 361.2,244.4 370.7,248.5 380.3,253.7 389.9,259.9 399.5,263.1 409.0,267.3 418.6,272.0 428.2,274.6 437.8,276.7 447.3,281.1 456.9,285.6 466.5,288.9 476.1,292.5 485.6,297.2 495.2,301.8 504.8,304.8 514.4,307.1 523.9,309.3 533.5,311.6 543.1,314.0 552.7,316.7 562.2,320.1 571.8,323.4 581.4,327.8 591.0,331.2 600.5,332.0 610.1,333.3 619.7,334.5 629.3,336.6 638.8,338.4 648.4,340.1 658.0,340.8 667.6,339.2 677.1,337.2 686.7,335.1 696.3,333.8 705.9,332.9 715.4,331.2 725.0,330.2 734.6,327.1 744.2,324.1 753.7,322.1 763.3,320.7 772.9,319.0 782.5,320.0 792.0,321.2 801.6,322.6 811.2,324.0 820.8,324.9 830.3,325.4 839.9,326.0 849.5,326.8 859.1,328.5 868.6,329.5 878.2,331.5 887.8,333.2 897.4,333.9 906.9,334.2 916.5,334.3 926.1,334.5 935.7,334.3 945.2,334.7 954.8,335.9 964.4,338.4 974.0,342.4 983.5,347.6 993.1,352.9 1002.7,357.2 1012.3,362.0 1021.8,365.3 1031.4,369.0 1041.0,372.2 1050.6,375.0 1060.2,377.5 1069.7,377.9 1079.3,378.4 1088.9,378.9 1098.5,379.2 1108.0,379.0 1117.6,380.1 1127.2,379.8 1136.8,379.7 1146.3,379.7 1155.9,379.9 1165.5,378.8 1175.0,377.5 1184.6,375.5 1194.2,372.6 1203.8,369.3 1213.3,365.3 1222.9,361.6 1232.5,358.5 1242.1,354.7 1251.7,351.0 1261.2,349.3 1270.8,347.4 1280.4,345.1 1290.0,342.7 1299.5,341.3 1309.1,339.8 1318.7,339.2 1328.2,339.6 1337.8,339.8 1347.4,340.9 1357.0,341.8 1366.5,342.2 1376.1,341.8 1385.7,340.6 1395.3,338.3 1404.8,336.7 1414.4,335.5 1424.0,334.4 1433.6,334.6"/>
<polyline fill="none" stroke="#e2e2e2" stroke-width="1.65" stroke-linejoin="round" points="6.9,319.5 16.5,311.1 26.0,299.9 35.6,294.3 45.2,294.3 54.8,290.5 64.3,277.6 73.9,267.3 83.5,258.8 93.1,250.1 102.7,242.5 112.2,243.8 121.8,250.8 131.4,253.7 140.9,259.8 150.5,252.3 160.1,235.8 169.7,220.8 179.2,203.2 188.8,184.3 198.4,168.5 208.0,155.8 217.5,144.7 227.1,142.1 236.7,140.0 246.3,139.6 255.8,129.6 265.4,119.8 275.0,113.1 284.6,105.0 294.1,104.9 303.7,107.3 313.3,108.9 322.9,120.3 332.4,134.8 342.0,150.1 351.6,161.4 361.2,193.0 370.7,217.2 380.3,242.2 389.9,268.6 399.5,279.6 409.0,293.4 418.6,307.8 428.2,312.8 437.8,315.0 447.3,326.2 456.9,337.2 466.5,342.1 476.1,347.9 485.6,357.9 495.2,366.5 504.8,368.4 514.4,367.8 523.9,366.8 533.5,367.0 543.1,368.1 552.7,370.1 562.2,375.3 571.8,380.0 581.4,388.3 591.0,392.3 600.5,386.1 610.1,382.9 619.7,380.0 629.3,381.2 638.8,381.6 648.4,381.7 658.0,378.0 667.6,366.0 677.1,354.1 686.7,343.0 696.3,336.9 705.9,332.6 715.4,326.1 725.0,323.0 734.6,311.8 744.2,302.5 753.7,298.2 763.3,296.0 772.9,293.4 782.5,301.1 792.0,308.6 801.6,316.3 811.2,322.6 820.8,326.5 830.3,328.1 839.9,330.2 849.5,332.5 859.1,338.5 868.6,340.6 878.2,347.1 887.8,351.1 897.4,351.3 906.9,349.9 916.5,347.7 926.1,346.2 935.7,343.8 945.2,344.0 954.8,347.2 964.4,355.4 974.0,368.2 983.5,384.8 993.1,399.9 1002.7,409.7 1012.3,420.3 1021.8,424.1 1031.4,429.8 1041.0,432.8 1050.6,434.7 1060.2,435.1 1069.7,427.9 1079.3,422.2 1088.9,417.4 1098.5,412.4 1108.0,406.9 1117.6,406.8 1127.2,401.4 1136.8,397.9 1146.3,395.0 1155.9,393.3 1165.5,386.9 1175.0,380.9 1184.6,372.3 1194.2,361.3 1203.8,350.3 1213.3,337.5 1222.9,327.2 1232.5,320.2 1242.1,311.2 1251.7,303.6 1261.2,304.0 1270.8,303.6 1280.4,301.5 1290.0,298.6 1299.5,300.1 1309.1,300.3 1318.7,304.2 1328.2,311.0 1337.8,316.4 1347.4,324.4 1357.0,330.1 1366.5,333.5 1376.1,333.4 1385.7,330.1 1395.3,322.7 1404.8,318.5 1414.4,316.7 1424.0,315.2 1433.6,319.1"/>
<path d="M5.5,206.2 h5.1 v6.8 h4.15 l-6.7,8.2 l-6.7,-8.2 h4.15 z" fill="none" stroke="#00e000" stroke-width="1.4" stroke-linejoin="miter"/>
<path d="M82.5,183.7 h5.1 v6.8 h4.15 l-6.7,8.2 l-6.7,-8.2 h4.15 z" fill="none" stroke="#00e000" stroke-width="1.4" stroke-linejoin="miter"/>
<path d="M101.5,179.2 h5.1 v6.8 h4.15 l-6.7,8.2 l-6.7,-8.2 h4.15 z" fill="none" stroke="#00e000" stroke-width="1.4" stroke-linejoin="miter"/>
<path d="M215.4,44.7 h5.1 v6.8 h4.15 l-6.7,8.2 l-6.7,-8.2 h4.15 z" fill="none" stroke="#00e000" stroke-width="1.4" stroke-linejoin="miter"/>
<path d="M694.1,266.1 h5.1 v6.8 h4.15 l-6.7,8.2 l-6.7,-8.2 h4.15 z" fill="none" stroke="#00e000" stroke-width="1.4" stroke-linejoin="miter"/>
<path d="M752.8,242.9 h5.1 v6.8 h4.15 l-6.7,8.2 l-6.7,-8.2 h4.15 z" fill="none" stroke="#00e000" stroke-width="1.4" stroke-linejoin="miter"/>
<path d="M943.1,317.0 h5.1 v6.8 h4.15 l-6.7,8.2 l-6.7,-8.2 h4.15 z" fill="none" stroke="#00e000" stroke-width="1.4" stroke-linejoin="miter"/>
<path d="M1115.4,380.3 h5.1 v6.8 h4.15 l-6.7,8.2 l-6.7,-8.2 h4.15 z" fill="none" stroke="#00e000" stroke-width="1.4" stroke-linejoin="miter"/>
<path d="M1135.0,349.7 h5.1 v6.8 h4.15 l-6.7,8.2 l-6.7,-8.2 h4.15 z" fill="none" stroke="#00e000" stroke-width="1.4" stroke-linejoin="miter"/>
<path d="M1240.2,241.7 h5.1 v6.8 h4.15 l-6.7,8.2 l-6.7,-8.2 h4.15 z" fill="none" stroke="#00e000" stroke-width="1.4" stroke-linejoin="miter"/>
<path d="M1403.5,264.2 h5.1 v6.8 h4.15 l-6.7,8.2 l-6.7,-8.2 h4.15 z" fill="none" stroke="#00e000" stroke-width="1.4" stroke-linejoin="miter"/>
<path d="M1183.0,217.4 h5.1 v6.8 h4.15 l-6.7,8.2 l-6.7,-8.2 h4.15 z" fill="#00ff00" stroke="#00ff00" stroke-width="1.4" stroke-linejoin="miter"/>
<path d="M322.8,234.3 l7.8,8.5 h-4.6 v8 h-6.4 v-8 h-4.6 z" fill="#ff0000"/>
<path d="M400.8,427.9 l7.8,8.5 h-4.6 v8 h-6.4 v-8 h-4.6 z" fill="#ff0000"/>
<path d="M506.2,432.3 l7.8,8.5 h-4.6 v8 h-6.4 v-8 h-4.6 z" fill="#ff0000"/>
<path d="M602.0,414.6 l7.8,8.5 h-4.6 v8 h-6.4 v-8 h-4.6 z" fill="#ff0000"/>
<path d="M821.0,371.0 l7.8,8.5 h-4.6 v8 h-6.4 v-8 h-4.6 z" fill="#ff0000"/>
<path d="M899.3,369.7 l7.8,8.5 h-4.6 v8 h-6.4 v-8 h-4.6 z" fill="#ff0000"/>
<path d="M1013.0,485.0 l7.8,8.5 h-4.6 v8 h-6.4 v-8 h-4.6 z" fill="#ff0000"/>
<path d="M1301.0,381.2 l7.8,8.5 h-4.6 v8 h-6.4 v-8 h-4.6 z" fill="#ff0000"/>
<path d="M1377.0,360.8 l7.8,8.5 h-4.6 v8 h-6.4 v-8 h-4.6 z" fill="#ff0000"/>
<path d="M198.5,18.4 l7.8,8.5 h-4.6 v8 h-6.4 v-8 h-4.6 z" fill="#ff0000"/>
<line x1="2" y1="253.3" x2="1468.2" y2="253.3" stroke="#e8e800" stroke-width="2.0"/>
<line x1="2" y1="327" x2="1468.2" y2="327" stroke="#e8e800" stroke-width="2.0"/>
<line x1="2" y1="391.2" x2="1468.2" y2="391.2" stroke="#e8e800" stroke-width="2.0"/>
<line x1="2" y1="444" x2="1468.2" y2="444" stroke="#e8e800" stroke-width="2.0"/>
<line x1="255.4" y1="41.6" x2="1385" y2="523.4" stroke="#e8e800" stroke-width="1.9"/>
<line x1="2" y1="248" x2="645" y2="521.5" stroke="#e8e800" stroke-width="1.9"/>
<line x1="993.6" y1="41.2" x2="1468.2" y2="243.2" stroke="#e8e800" stroke-width="1.9"/>
<line x1="964.9" y1="523.8" x2="1468.2" y2="338" stroke="#e8e800" stroke-width="1.9"/>
<line x1="1119" y1="397.4" x2="1468.2" y2="397.4" stroke="#c8c8c8" stroke-width="1.4"/>
<path d="M1435.4,20.8 l7.7,7.7 l-7.7,7.7 l-7.7,-7.7 z" fill="none" stroke="#960000" stroke-width="1.7"/>
<rect x="1450.4" y="21" width="13.3" height="14.7" fill="none" stroke="#960000" stroke-width="1.9"/>
<line x1="1459" y1="21" x2="1459" y2="36" stroke="#960000" stroke-width="1.7"/>
<path d="M215,51.5 L197.5,46.4 M203,43.3 L197.3,46.4 L201.2,51" fill="none" stroke="#d8d8d8" stroke-width="1.2"/>
<path d="M1000.6,514.5 L984.2,514 M989.5,510.5 L984.2,514 L989.5,519.5" fill="none" stroke="#d8d8d8" stroke-width="1.2"/>
<rect x="1278.7" y="895" width="115.3" height="4" fill="#0000ff"/>
<rect x="1488" y="896.6" width="9" height="3" fill="#c0c0c0"/>
<text x="1500" y="84.0" fill="#b80000" font-size="17.5" text-anchor="start" font-family="Liberation Sans, sans-serif">3250</text>
<text x="1500" y="125.8" fill="#b80000" font-size="17.5" text-anchor="start" font-family="Liberation Sans, sans-serif">3200</text>
<text x="1500" y="168.1" fill="#b80000" font-size="17.5" text-anchor="start" font-family="Liberation Sans, sans-serif">3150</text>
<text x="1500" y="209.9" fill="#b80000" font-size="17.5" text-anchor="start" font-family="Liberation Sans, sans-serif">3100</text>
<text x="1500" y="252.0" fill="#b80000" font-size="17.5" text-anchor="start" font-family="Liberation Sans, sans-serif">3050</text>
<text x="1500" y="295.0" fill="#b80000" font-size="17.5" text-anchor="start" font-family="Liberation Sans, sans-serif">3000</text>
<text x="1500" y="337.4" fill="#b80000" font-size="17.5" text-anchor="start" font-family="Liberation Sans, sans-serif">2950</text>
<text x="1500" y="379.5" fill="#b80000" font-size="17.5" text-anchor="start" font-family="Liberation Sans, sans-serif">2900</text>
<text x="1500" y="421.7" fill="#b80000" font-size="17.5" text-anchor="start" font-family="Liberation Sans, sans-serif">2850</text>
<text x="1500" y="463.5" fill="#b80000" font-size="17.5" text-anchor="start" font-family="Liberation Sans, sans-serif">2800</text>
<text x="1500" y="507.1" fill="#b80000" font-size="17.5" text-anchor="start" font-family="Liberation Sans, sans-serif">2750</text>
<text x="1489.6" y="571.7" fill="#b80000" font-size="17.5" text-anchor="start" font-family="Liberation Sans, sans-serif">6000</text>
<text x="1489.6" y="621.6" fill="#b80000" font-size="17.5" text-anchor="start" font-family="Liberation Sans, sans-serif">4000</text>
<text x="1489.6" y="671.3" fill="#b80000" font-size="17.5" text-anchor="start" font-family="Liberation Sans, sans-serif">2000</text>
<text x="1515" y="768.3" fill="#b80000" font-size="17.5" text-anchor="end" font-family="Liberation Sans, sans-serif">100</text>
<text x="1515" y="790.9" fill="#b80000" font-size="17.5" text-anchor="end" font-family="Liberation Sans, sans-serif">80</text>
<text x="1515" y="823.7" fill="#b80000" font-size="17.5" text-anchor="end" font-family="Liberation Sans, sans-serif">50</text>
<text x="1515" y="856.9" fill="#b80000" font-size="17.5" text-anchor="end" font-family="Liberation Sans, sans-serif">20</text>
<rect x="1469.2" y="672.2" width="37.5" height="23.6" fill="#0000ff" stroke="#960000" stroke-width="1.2"/>
<text x="1470.5" y="689.3" fill="#e8e8ff" font-size="17.5" text-anchor="start" font-family="Liberation Sans, sans-serif">7351</text>
<text x="1471.5" y="712.8" fill="#b80000" font-size="17.5" font-family="Liberation Sans, Noto Sans CJK SC, sans-serif">X1万</text>
<text x="1283" y="909.8" fill="#ffffff" font-size="17.5" font-family="Liberation Sans, sans-serif">2016/01/11/一</text>
<rect x="3.0" y="570.6" width="7.9" height="144.2" fill="#00ffff"/>
<rect x="13.3" y="609.7" width="6.3" height="105.1" fill="none" stroke="#ee3c3c" stroke-width="1.6"/>
<rect x="22.9" y="588.7" width="6.3" height="126.1" fill="none" stroke="#ee3c3c" stroke-width="1.6"/>
<rect x="31.7" y="602.5" width="7.9" height="112.3" fill="#00ffff"/>
<rect x="41.2" y="621.7" width="7.9" height="93.1" fill="#00ffff"/>
<rect x="51.6" y="630.7" width="6.3" height="84.1" fill="none" stroke="#ee3c3c" stroke-width="1.6"/>
<rect x="61.2" y="617.0" width="6.3" height="97.8" fill="none" stroke="#ee3c3c" stroke-width="1.6"/>
<rect x="70.0" y="626.3" width="7.9" height="88.5" fill="#00ffff"/>
<rect x="80.3" y="626.1" width="6.3" height="88.7" fill="none" stroke="#ee3c3c" stroke-width="1.6"/>
<rect x="89.9" y="612.5" width="6.3" height="102.3" fill="none" stroke="#ee3c3c" stroke-width="1.6"/>
<rect x="99.5" y="624.3" width="6.3" height="90.5" fill="none" stroke="#ee3c3c" stroke-width="1.6"/>
<rect x="108.3" y="619.9" width="7.9" height="94.9" fill="#00ffff"/>
<rect x="117.8" y="626.3" width="7.9" height="88.5" fill="#00ffff"/>
<rect x="128.2" y="642.6" width="6.3" height="72.2" fill="none" stroke="#ee3c3c" stroke-width="1.6"/>
<rect x="137.0" y="643.2" width="7.9" height="71.6" fill="#00ffff"/>
<rect x="147.4" y="621.6" width="6.3" height="93.2" fill="none" stroke="#ee3c3c" stroke-width="1.6"/>
<rect x="157.0" y="599.1" width="6.3" height="115.7" fill="none" stroke="#ee3c3c" stroke-width="1.6"/>
<rect x="165.7" y="603.8" width="7.9" height="111.0" fill="#00ffff"/>
<rect x="176.1" y="607.9" width="6.3" height="106.9" fill="none" stroke="#ee3c3c" stroke-width="1.6"/>
<rect x="185.7" y="599.1" width="6.3" height="115.7" fill="none" stroke="#ee3c3c" stroke-width="1.6"/>
<rect x="194.5" y="588.8" width="7.9" height="126.0" fill="#00ffff"/>
<rect x="204.0" y="623.5" width="7.9" height="91.3" fill="#00ffff"/>
<rect x="214.4" y="621.6" width="6.3" height="93.2" fill="none" stroke="#ee3c3c" stroke-width="1.6"/>
<rect x="223.2" y="626.3" width="7.9" height="88.5" fill="#00ffff"/>
<rect x="233.6" y="642.6" width="6.3" height="72.2" fill="none" stroke="#ee3c3c" stroke-width="1.6"/>
<rect x="242.3" y="628.1" width="7.9" height="86.7" fill="#00ffff"/>
<rect x="252.7" y="626.1" width="6.3" height="88.7" fill="none" stroke="#ee3c3c" stroke-width="1.6"/>
<rect x="262.3" y="626.1" width="6.3" height="88.7" fill="none" stroke="#ee3c3c" stroke-width="1.6"/>
<rect x="271.0" y="634.1" width="7.9" height="80.7" fill="#00ffff"/>
<rect x="281.4" y="636.5" width="6.3" height="78.3" fill="none" stroke="#ee3c3c" stroke-width="1.6"/>
<rect x="290.2" y="626.3" width="7.9" height="88.5" fill="#00ffff"/>
<rect x="299.8" y="630.8" width="7.9" height="84.0" fill="#00ffff"/>
<rect x="309.3" y="645.8" width="7.9" height="69.0" fill="#00ffff"/>
<rect x="318.9" y="634.1" width="7.9" height="80.7" fill="#00ffff"/>
<rect x="328.5" y="644.5" width="7.9" height="70.3" fill="#00ffff"/>
<rect x="338.1" y="640.9" width="7.9" height="73.9" fill="#00ffff"/>
<rect x="348.4" y="660.8" width="6.3" height="54.0" fill="none" stroke="#ee3c3c" stroke-width="1.6"/>
<rect x="357.2" y="632.6" width="7.9" height="82.2" fill="#00ffff"/>
<rect x="367.6" y="651.7" width="6.3" height="63.1" fill="none" stroke="#ee3c3c" stroke-width="1.6"/>
<rect x="377.2" y="657.5" width="6.3" height="57.3" fill="none" stroke="#ee3c3c" stroke-width="1.6"/>
<rect x="385.9" y="664.0" width="7.9" height="50.8" fill="#00ffff"/>
<rect x="396.3" y="645.7" width="6.3" height="69.1" fill="none" stroke="#ee3c3c" stroke-width="1.6"/>
<rect x="405.1" y="660.9" width="7.9" height="53.9" fill="#00ffff"/>
<rect x="415.5" y="663.6" width="6.3" height="51.2" fill="none" stroke="#ee3c3c" stroke-width="1.6"/>
<rect x="425.0" y="657.5" width="6.3" height="57.3" fill="none" stroke="#ee3c3c" stroke-width="1.6"/>
<rect x="434.6" y="653.2" width="6.3" height="61.6" fill="none" stroke="#ee3c3c" stroke-width="1.6"/>
<rect x="443.4" y="647.6" width="7.9" height="67.2" fill="#00ffff"/>
<rect x="453.0" y="662.4" width="7.9" height="52.4" fill="#00ffff"/>
<rect x="463.3" y="662.1" width="6.3" height="52.7" fill="none" stroke="#ee3c3c" stroke-width="1.6"/>
<rect x="472.1" y="664.0" width="7.9" height="50.8" fill="#00ffff"/>
<rect x="481.7" y="665.5" width="7.9" height="49.3" fill="#00ffff"/>
<rect x="492.1" y="674.1" width="6.3" height="40.7" fill="none" stroke="#ee3c3c" stroke-width="1.6"/>
<rect x="501.6" y="665.9" width="6.3" height="48.9" fill="none" stroke="#ee3c3c" stroke-width="1.6"/>
<rect x="511.2" y="659.0" width="6.3" height="55.8" fill="none" stroke="#ee3c3c" stroke-width="1.6"/>
<rect x="520.8" y="665.4" width="6.3" height="49.4" fill="none" stroke="#ee3c3c" stroke-width="1.6"/>
<rect x="530.4" y="665.7" width="6.3" height="49.1" fill="none" stroke="#ee3c3c" stroke-width="1.6"/>
<rect x="539.1" y="664.6" width="7.9" height="50.2" fill="#00ffff"/>
<rect x="548.7" y="660.9" width="7.9" height="53.9" fill="#00ffff"/>
<rect x="558.3" y="666.8" width="7.9" height="48.0" fill="#00ffff"/>
<rect x="567.9" y="668.2" width="7.9" height="46.6" fill="#00ffff"/>
<rect x="577.4" y="670.1" width="7.9" height="44.7" fill="#00ffff"/>
<rect x="587.8" y="674.1" width="6.3" height="40.7" fill="none" stroke="#ee3c3c" stroke-width="1.6"/>
<rect x="597.4" y="650.2" width="6.3" height="64.6" fill="none" stroke="#ee3c3c" stroke-width="1.6"/>
<rect x="606.2" y="654.9" width="7.9" height="59.9" fill="#00ffff"/>
<rect x="616.5" y="663.6" width="6.3" height="51.2" fill="none" stroke="#ee3c3c" stroke-width="1.6"/>
<rect x="625.3" y="660.9" width="7.9" height="53.9" fill="#00ffff"/>
<rect x="635.7" y="677.2" width="6.3" height="37.6" fill="none" stroke="#ee3c3c" stroke-width="1.6"/>
<rect x="644.5" y="677.4" width="7.9" height="37.4" fill="#00ffff"/>
<rect x="654.0" y="656.4" width="7.9" height="58.4" fill="#00ffff"/>
<rect x="664.4" y="642.6" width="6.3" height="72.2" fill="none" stroke="#ee3c3c" stroke-width="1.6"/>
<rect x="674.0" y="644.0" width="6.3" height="70.8" fill="none" stroke="#ee3c3c" stroke-width="1.6"/>
<rect x="683.6" y="662.1" width="6.3" height="52.7" fill="none" stroke="#ee3c3c" stroke-width="1.6"/>
<rect x="692.3" y="653.6" width="7.9" height="61.2" fill="#00ffff"/>
<rect x="702.7" y="671.4" width="6.3" height="43.4" fill="none" stroke="#ee3c3c" stroke-width="1.6"/>
<rect x="712.3" y="666.3" width="6.3" height="48.5" fill="none" stroke="#ee3c3c" stroke-width="1.6"/>
<rect x="721.1" y="668.2" width="7.9" height="46.6" fill="#00ffff"/>
<rect x="731.4" y="653.2" width="6.3" height="61.6" fill="none" stroke="#ee3c3c" stroke-width="1.6"/>
<rect x="741.0" y="662.3" width="6.3" height="52.5" fill="none" stroke="#ee3c3c" stroke-width="1.6"/>
<rect x="749.8" y="661.5" width="7.9" height="53.3" fill="#00ffff"/>
<rect x="759.4" y="665.5" width="7.9" height="49.3" fill="#00ffff"/>
<rect x="769.7" y="675.8" width="6.3" height="39.0" fill="none" stroke="#ee3c3c" stroke-width="1.6"/>
<rect x="778.5" y="660.9" width="7.9" height="53.9" fill="#00ffff"/>
<rect x="788.1" y="677.4" width="7.9" height="37.4" fill="#00ffff"/>
<rect x="797.7" y="680.5" width="7.9" height="34.3" fill="#00ffff"/>
<rect x="807.2" y="677.4" width="7.9" height="37.4" fill="#00ffff"/>
<rect x="817.6" y="680.0" width="6.3" height="34.8" fill="none" stroke="#ee3c3c" stroke-width="1.6"/>
<rect x="827.2" y="674.1" width="6.3" height="40.7" fill="none" stroke="#ee3c3c" stroke-width="1.6"/>
<rect x="836.0" y="679.7" width="7.9" height="35.1" fill="#00ffff"/>
<rect x="845.5" y="675.5" width="7.9" height="39.3" fill="#00ffff"/>
<rect x="855.1" y="677.9" width="7.9" height="36.9" fill="#00ffff"/>
<rect x="865.5" y="678.7" width="6.3" height="36.1" fill="none" stroke="#ee3c3c" stroke-width="1.6"/>
<rect x="874.3" y="668.6" width="7.9" height="46.2" fill="#00ffff"/>
<rect x="884.6" y="683.1" width="6.3" height="31.7" fill="none" stroke="#ee3c3c" stroke-width="1.6"/>
<rect x="894.2" y="678.2" width="6.3" height="36.6" fill="none" stroke="#ee3c3c" stroke-width="1.6"/>
<rect x="903.8" y="678.7" width="6.3" height="36.1" fill="none" stroke="#ee3c3c" stroke-width="1.6"/>
<rect x="913.4" y="680.5" width="6.3" height="34.3" fill="none" stroke="#ee3c3c" stroke-width="1.6"/>
<rect x="922.1" y="681.9" width="7.9" height="32.9" fill="#00ffff"/>
<rect x="932.5" y="681.3" width="6.3" height="33.5" fill="none" stroke="#ee3c3c" stroke-width="1.6"/>
<rect x="941.3" y="680.1" width="7.9" height="34.7" fill="#00ffff"/>
<rect x="950.9" y="680.1" width="7.9" height="34.7" fill="#00ffff"/>
<rect x="961.2" y="669.9" width="6.3" height="44.9" fill="none" stroke="#ee3c3c" stroke-width="1.6"/>
<rect x="970.0" y="673.7" width="7.9" height="41.1" fill="#00ffff"/>
<rect x="980.4" y="657.5" width="6.3" height="57.3" fill="none" stroke="#ee3c3c" stroke-width="1.6"/>
<rect x="989.2" y="674.6" width="7.9" height="40.2" fill="#00ffff"/>
<rect x="999.5" y="677.2" width="6.3" height="37.6" fill="none" stroke="#ee3c3c" stroke-width="1.6"/>
<rect x="1008.3" y="677.4" width="7.9" height="37.4" fill="#00ffff"/>
<rect x="1018.7" y="681.8" width="6.3" height="33.0" fill="none" stroke="#ee3c3c" stroke-width="1.6"/>
<rect x="1027.5" y="681.9" width="7.9" height="32.9" fill="#00ffff"/>
<rect x="1037.0" y="677.9" width="7.9" height="36.9" fill="#00ffff"/>
<rect x="1047.4" y="676.3" width="6.3" height="38.5" fill="none" stroke="#ee3c3c" stroke-width="1.6"/>
<rect x="1057.0" y="678.7" width="6.3" height="36.1" fill="none" stroke="#ee3c3c" stroke-width="1.6"/>
<rect x="1066.6" y="662.1" width="6.3" height="52.7" fill="none" stroke="#ee3c3c" stroke-width="1.6"/>
<rect x="1076.1" y="668.1" width="6.3" height="46.7" fill="none" stroke="#ee3c3c" stroke-width="1.6"/>
<rect x="1085.7" y="675.4" width="6.3" height="39.4" fill="none" stroke="#ee3c3c" stroke-width="1.6"/>
<rect x="1094.5" y="677.4" width="7.9" height="37.4" fill="#00ffff"/>
<rect x="1104.9" y="676.3" width="6.3" height="38.5" fill="none" stroke="#ee3c3c" stroke-width="1.6"/>
<rect x="1114.4" y="673.2" width="6.3" height="41.6" fill="none" stroke="#ee3c3c" stroke-width="1.6"/>
<rect x="1124.0" y="663.6" width="6.3" height="51.2" fill="none" stroke="#ee3c3c" stroke-width="1.6"/>
<rect x="1132.8" y="669.1" width="7.9" height="45.7" fill="#00ffff"/>
<rect x="1142.4" y="671.0" width="7.9" height="43.8" fill="#00ffff"/>
<rect x="1152.0" y="665.9" width="7.9" height="48.9" fill="#00ffff"/>
<rect x="1162.3" y="665.4" width="6.3" height="49.4" fill="none" stroke="#ee3c3c" stroke-width="1.6"/>
<rect x="1171.9" y="669.0" width="6.3" height="45.8" fill="none" stroke="#ee3c3c" stroke-width="1.6"/>
<rect x="1181.5" y="659.4" width="6.3" height="55.4" fill="none" stroke="#ee3c3c" stroke-width="1.6"/>
<rect x="1191.0" y="639.8" width="6.3" height="75.0" fill="none" stroke="#ee3c3c" stroke-width="1.6"/>
<rect x="1200.6" y="660.8" width="6.3" height="54.0" fill="none" stroke="#ee3c3c" stroke-width="1.6"/>
<rect x="1210.2" y="655.3" width="6.3" height="59.5" fill="none" stroke="#ee3c3c" stroke-width="1.6"/>
<rect x="1219.0" y="654.5" width="7.9" height="60.3" fill="#00ffff"/>
<rect x="1228.5" y="656.4" width="7.9" height="58.4" fill="#00ffff"/>
<rect x="1238.9" y="666.3" width="6.3" height="48.5" fill="none" stroke="#ee3c3c" stroke-width="1.6"/>
<rect x="1247.7" y="658.6" width="7.9" height="56.2" fill="#00ffff"/>
<rect x="1257.3" y="658.2" width="7.9" height="56.6" fill="#00ffff"/>
<rect x="1267.6" y="672.7" width="6.3" height="42.1" fill="none" stroke="#ee3c3c" stroke-width="1.6"/>
<rect x="1277.2" y="674.5" width="6.3" height="40.3" fill="none" stroke="#ee3c3c" stroke-width="1.6"/>
<rect x="1286.8" y="669.4" width="6.3" height="45.4" fill="none" stroke="#ee3c3c" stroke-width="1.6"/>
<rect x="1295.6" y="671.3" width="7.9" height="43.5" fill="#00ffff"/>
<rect x="1305.9" y="674.5" width="6.3" height="40.3" fill="none" stroke="#ee3c3c" stroke-width="1.6"/>
<rect x="1314.7" y="672.8" width="7.9" height="42.0" fill="#00ffff"/>
<rect x="1324.3" y="667.3" width="7.9" height="47.5" fill="#00ffff"/>
<rect x="1334.7" y="681.8" width="6.3" height="33.0" fill="none" stroke="#ee3c3c" stroke-width="1.6"/>
<rect x="1343.5" y="685.2" width="7.9" height="29.6" fill="#00ffff"/>
<rect x="1353.8" y="683.1" width="6.3" height="31.7" fill="none" stroke="#ee3c3c" stroke-width="1.6"/>
<rect x="1363.4" y="683.1" width="6.3" height="31.7" fill="none" stroke="#ee3c3c" stroke-width="1.6"/>
<rect x="1373.0" y="682.7" width="6.3" height="32.1" fill="none" stroke="#ee3c3c" stroke-width="1.6"/>
<rect x="1382.5" y="676.3" width="6.3" height="38.5" fill="none" stroke="#ee3c3c" stroke-width="1.6"/>
<rect x="1392.1" y="663.6" width="6.3" height="51.2" fill="none" stroke="#ee3c3c" stroke-width="1.6"/>
<rect x="1400.9" y="675.5" width="7.9" height="39.3" fill="#00ffff"/>
<rect x="1410.5" y="677.4" width="7.9" height="37.4" fill="#00ffff"/>
<rect x="1420.0" y="683.7" width="7.9" height="31.1" fill="#00ffff"/>
<rect x="1429.6" y="676.1" width="7.9" height="38.7" fill="#00ffff"/>
<polyline fill="none" stroke="#e8e800" stroke-width="1.7" stroke-linejoin="round" points="6.9,592.5 16.5,595.2 26.0,596.5 35.6,597.0 45.2,597.0 54.8,596.5 64.3,599.8 73.9,601.6 83.5,605.6 93.1,610.1 102.7,615.4 112.2,616.5 121.8,620.3 131.4,624.2 140.9,626.4 150.5,625.5 160.1,623.7 169.7,621.5 179.2,619.6 188.8,618.3 198.4,614.8 208.0,615.2 217.5,614.6 227.1,613.1 236.7,613.0 246.3,613.7 255.8,616.4 265.4,618.5 275.0,621.2 284.6,625.0 294.1,628.7 303.7,629.4 313.3,631.9 322.9,632.7 332.4,633.0 342.0,634.3 351.6,637.8 361.2,638.5 370.7,640.2 380.3,642.3 389.9,646.0 399.5,647.4 409.0,649.0 418.6,651.8 428.2,653.0 437.8,654.2 447.3,653.0 456.9,655.9 466.5,657.0 476.1,657.7 485.6,657.8 495.2,660.7 504.8,661.1 514.4,660.7 523.9,661.4 533.5,662.7 543.1,664.4 552.7,664.2 562.2,664.8 571.8,665.2 581.4,665.7 591.0,665.7 600.5,664.1 610.1,663.8 619.7,663.6 629.3,663.2 638.8,664.4 648.4,666.0 658.0,665.0 667.6,662.3 677.1,659.6 686.7,658.4 696.3,658.9 705.9,660.4 715.4,660.7 725.0,661.4 734.6,659.0 744.2,657.4 753.7,658.0 763.3,660.3 772.9,663.5 782.5,663.5 792.0,665.8 801.6,666.8 811.2,668.0 820.8,669.1 830.3,671.2 839.9,673.0 849.5,674.4 859.1,675.7 868.6,676.0 878.2,676.7 887.8,677.2 897.4,676.9 906.9,677.0 916.5,677.0 926.1,677.9 935.7,678.0 945.2,678.4 954.8,678.6 964.4,677.8 974.0,678.3 983.5,675.7 993.1,675.4 1002.7,675.3 1012.3,675.1 1021.8,675.0 1031.4,675.1 1041.0,674.9 1050.6,674.4 1060.2,675.3 1069.7,674.1 1079.3,675.1 1088.9,675.1 1098.5,675.2 1108.0,675.0 1117.6,674.2 1127.2,672.3 1136.8,671.4 1146.3,670.9 1155.9,669.7 1165.5,670.1 1175.0,670.1 1184.6,668.5 1194.2,664.7 1203.8,663.2 1213.3,661.4 1222.9,660.5 1232.5,659.3 1242.1,658.7 1251.7,658.0 1261.2,657.4 1270.8,657.7 1280.4,659.2 1290.0,662.2 1299.5,663.3 1309.1,665.2 1318.7,667.1 1328.2,668.2 1337.8,669.7 1347.4,672.4 1357.0,674.8 1366.5,675.8 1376.1,676.6 1385.7,677.3 1395.3,676.5 1404.8,676.7 1414.4,677.1 1424.0,678.8 1433.6,678.3"/>
<polyline fill="none" stroke="#e2e2e2" stroke-width="1.65" stroke-linejoin="round" points="6.9,583.0 16.5,587.4 26.0,583.4 35.6,588.8 45.2,598.3 54.8,610.2 64.3,611.7 73.9,619.3 83.5,623.9 93.1,621.9 102.7,620.6 112.2,621.3 121.8,621.3 131.4,624.6 140.9,630.9 150.5,630.4 160.1,626.1 169.7,621.6 179.2,614.6 188.8,605.7 198.4,599.3 208.0,604.3 217.5,607.7 227.1,611.5 236.7,620.2 246.3,628.1 255.8,628.4 265.4,629.4 275.0,630.9 284.6,629.7 294.1,629.4 303.7,630.5 313.3,634.5 322.9,634.5 332.4,636.3 342.0,639.2 351.6,645.1 361.2,642.4 370.7,645.8 380.3,648.2 389.9,652.9 399.5,649.8 409.0,655.5 418.6,657.9 428.2,657.9 437.8,655.5 447.3,656.1 456.9,656.4 466.5,656.1 476.1,657.5 485.6,660.2 495.2,665.3 504.8,665.9 514.4,665.2 523.9,665.3 533.5,665.2 543.1,663.5 552.7,662.6 562.2,664.4 571.8,665.1 581.4,666.1 591.0,667.9 600.5,665.6 610.1,663.2 619.7,662.1 629.3,660.3 638.8,660.9 648.4,666.5 658.0,666.8 667.6,662.6 677.1,659.0 686.7,656.0 696.3,651.3 705.9,654.1 715.4,658.8 725.0,663.8 734.6,662.1 744.2,663.6 753.7,661.8 763.3,661.8 772.9,663.2 782.5,664.9 792.0,668.0 801.6,671.8 811.2,674.2 820.8,675.1 830.3,677.5 839.9,678.0 849.5,677.0 859.1,677.1 868.6,676.9 878.2,675.9 887.8,676.4 897.4,676.8 906.9,676.8 916.5,677.2 926.1,679.8 935.7,679.5 945.2,680.0 954.8,680.5 964.4,678.3 974.0,676.7 983.5,671.9 993.1,670.9 1002.7,670.1 1012.3,671.8 1021.8,673.2 1031.4,678.3 1041.0,678.9 1050.6,678.7 1060.2,678.8 1069.7,674.9 1079.3,672.0 1088.9,671.3 1098.5,671.7 1108.0,671.2 1117.6,673.4 1127.2,672.5 1136.8,671.4 1146.3,670.2 1155.9,668.2 1165.5,666.7 1175.0,667.8 1184.6,665.6 1194.2,659.2 1203.8,658.1 1213.3,656.1 1222.9,653.3 1232.5,652.9 1242.1,658.2 1251.7,657.9 1261.2,658.6 1270.8,662.1 1280.4,665.6 1290.0,666.2 1299.5,668.7 1309.1,671.8 1318.7,672.0 1328.2,670.7 1337.8,673.2 1347.4,676.0 1357.0,677.7 1366.5,679.6 1376.1,682.5 1385.7,681.4 1395.3,676.9 1404.8,675.6 1414.4,674.6 1424.0,675.0 1433.6,675.1"/>
<polyline fill="none" stroke="#e8e800" stroke-width="1.7" stroke-linejoin="round" points="6.9,779.6 16.5,788.6 26.0,794.4 35.6,800.5 45.2,809.0 54.8,815.3 64.3,813.9 73.9,809.7 83.5,804.6 93.1,799.4 102.7,794.6 112.2,795.3 121.8,802.0 131.4,809.8 140.9,819.6 150.5,820.6 160.1,815.0 169.7,807.7 179.2,799.6 188.8,792.2 198.4,787.4 208.0,784.4 217.5,782.4 227.1,783.5 236.7,788.3 246.3,797.5 255.8,800.7 265.4,799.9 275.0,798.6 284.6,794.6 294.1,795.4 303.7,800.1 313.3,805.6 322.9,815.5 332.4,826.3 342.0,835.7 351.6,842.6 361.2,848.1 370.7,851.9 380.3,855.1 389.9,858.3 399.5,857.9 409.0,856.6 418.6,855.8 428.2,852.4 437.8,843.7 447.3,838.5 456.9,836.7 466.5,833.1 476.1,830.4 485.6,832.5 495.2,836.4 504.8,836.4 514.4,832.8 523.9,827.8 533.5,821.8 543.1,816.8 552.7,813.9 562.2,815.5 571.8,819.2 581.4,826.2 591.0,831.4 600.5,827.1 610.1,819.9 619.7,812.1 629.3,808.2 638.8,806.0 648.4,804.5 658.0,802.5 667.6,798.0 677.1,792.8 686.7,787.6 696.3,785.2 705.9,784.9 715.4,783.6 725.0,783.8 734.6,781.6 744.2,778.7 753.7,779.6 763.3,783.3 772.9,787.2 782.5,796.9 792.0,808.3 801.6,820.0 811.2,830.1 820.8,837.2 830.3,839.7 839.9,840.0 849.5,839.4 859.1,841.2 868.6,838.3 878.2,839.3 887.8,840.0 897.4,836.3 906.9,828.9 916.5,818.4 926.1,808.7 935.7,801.4 945.2,798.4 954.8,801.0 964.4,808.6 974.0,819.1 983.5,827.3 993.1,834.0 1002.7,838.1 1012.3,841.6 1021.8,841.8 1031.4,841.4 1041.0,837.8 1050.6,832.4 1060.2,824.0 1069.7,813.5 1079.3,804.2 1088.9,796.4 1098.5,789.7 1108.0,784.1 1117.6,782.7 1127.2,781.1 1136.8,781.3 1146.3,782.8 1155.9,786.9 1165.5,786.2 1175.0,783.4 1184.6,779.8 1194.2,778.6 1203.8,777.6 1213.3,775.6 1222.9,773.8 1232.5,773.7 1242.1,772.5 1251.7,772.1 1261.2,777.8 1270.8,788.6 1280.4,798.3 1290.0,805.0 1299.5,813.1 1309.1,819.9 1318.7,828.9 1328.2,837.7 1337.8,844.4 1347.4,850.6 1357.0,854.8 1366.5,855.3 1376.1,851.2 1385.7,842.9 1395.3,831.8 1404.8,822.3 1414.4,815.6 1424.0,811.1 1433.6,811.7"/>
<polyline fill="none" stroke="#e2e2e2" stroke-width="1.65" stroke-linejoin="round" points="6.9,796.2 16.5,806.7 26.0,806.0 35.6,812.7 45.2,826.0 54.8,827.8 64.3,811.2 73.9,801.2 83.5,794.3 93.1,788.9 102.7,785.1 112.2,796.8 121.8,815.4 131.4,825.3 140.9,839.3 150.5,822.6 160.1,803.9 169.7,793.0 179.2,783.3 188.8,777.6 198.4,777.6 208.0,778.3 217.5,778.5 227.1,785.6 236.7,798.1 246.3,815.9 255.8,807.0 265.4,798.3 275.0,796.1 284.6,786.7 294.1,797.0 303.7,809.4 313.3,816.6 322.9,835.4 332.4,848.0 342.0,854.3 351.6,856.4 361.2,859.3 370.7,859.5 380.3,861.4 389.9,864.6 399.5,857.0 409.0,854.1 418.6,854.2 428.2,845.6 437.8,826.4 447.3,828.1 456.9,833.0 466.5,825.9 476.1,825.1 485.6,836.5 495.2,844.4 504.8,836.3 514.4,825.7 523.9,817.7 533.5,809.8 543.1,806.8 552.7,808.2 562.2,818.7 571.8,826.5 581.4,840.3 591.0,841.7 600.5,818.6 610.1,805.5 619.7,796.6 629.3,800.5 638.8,801.5 648.4,801.4 658.0,798.6 667.6,789.0 677.1,782.3 686.7,777.1 696.3,780.4 705.9,784.3 715.4,781.1 725.0,784.0 734.6,777.2 744.2,773.0 753.7,781.2 763.3,790.9 772.9,794.9 782.5,816.3 792.0,831.2 801.6,843.2 811.2,850.3 820.8,851.6 830.3,844.7 839.9,840.7 849.5,838.2 859.1,844.6 868.6,832.4 878.2,841.3 887.8,841.4 897.4,829.0 906.9,814.0 916.5,797.4 926.1,789.5 935.7,786.8 945.2,792.5 954.8,806.2 964.4,823.6 974.0,840.1 983.5,843.8 993.1,847.5 1002.7,846.3 1012.3,848.4 1021.8,842.3 1031.4,840.6 1041.0,830.7 1050.6,821.6 1060.2,807.2 1069.7,792.4 1079.3,785.5 1088.9,780.9 1098.5,776.1 1108.0,773.0 1117.6,779.8 1127.2,778.0 1136.8,781.7 1146.3,785.9 1155.9,795.1 1165.5,784.9 1175.0,777.6 1184.6,772.7 1194.2,776.0 1203.8,775.8 1213.3,771.5 1222.9,770.2 1232.5,773.4 1242.1,770.2 1251.7,771.4 1261.2,789.0 1270.8,810.4 1280.4,817.5 1290.0,818.4 1299.5,829.5 1309.1,833.5 1318.7,846.7 1328.2,855.5 1337.8,857.8 1347.4,862.9 1357.0,863.2 1366.5,856.3 1376.1,843.2 1385.7,826.1 1395.3,809.7 1404.8,803.2 1414.4,802.4 1424.0,802.0 1433.6,812.8"/>
<polyline fill="none" stroke="#e600e6" stroke-width="1.7" stroke-linejoin="round" points="6.9,829.4 16.5,842.8 26.0,829.1 35.6,837.1 45.2,860.0 54.8,852.9 64.3,805.7 73.9,784.3 83.5,773.8 93.1,768.1 102.7,766.2 112.2,799.6 121.8,842.1 131.4,856.3 140.9,878.7 150.5,826.6 160.1,781.6 169.7,763.6 179.2,750.7 188.8,748.3 198.4,758.1 208.0,766.3 217.5,770.7 227.1,789.7 236.7,817.7 246.3,852.6 255.8,819.7 265.4,795.0 275.0,791.0 284.6,770.7 294.1,800.1 303.7,828.0 313.3,838.7 322.9,875.2 332.4,891.2 342.0,891.5 351.6,884.1 361.2,881.5 370.7,874.6 380.3,874.0 389.9,877.4 399.5,855.4 409.0,849.0 418.6,851.1 428.2,832.1 437.8,791.6 447.3,807.4 456.9,825.7 466.5,811.5 476.1,814.3 485.6,844.6 495.2,860.4 504.8,836.0 514.4,811.4 523.9,797.4 533.5,785.7 543.1,786.8 552.7,796.8 562.2,825.2 571.8,841.2 581.4,868.4 591.0,862.4 600.5,801.5 610.1,776.6 619.7,765.5 629.3,784.9 638.8,792.6 648.4,795.3 658.0,790.8 667.6,770.9 677.1,761.4 686.7,756.3 696.3,770.8 705.9,783.2 715.4,776.1 725.0,784.5 734.6,768.4 744.2,761.7 753.7,784.5 763.3,805.9 772.9,810.3 782.5,855.0 792.0,877.1 801.6,889.8 811.2,890.7 820.8,880.3 830.3,854.6 839.9,842.0 849.5,835.8 859.1,851.6 868.6,820.8 878.2,845.4 887.8,844.3 897.4,814.3 906.9,784.2 916.5,755.3 926.1,751.0 935.7,757.6 945.2,780.5 954.8,816.5 964.4,853.7 974.0,882.1 983.5,876.7 993.1,874.5 1002.7,862.7 1012.3,862.1 1021.8,843.3 1031.4,838.9 1041.0,816.5 1050.6,800.0 1060.2,773.5 1069.7,750.4 1079.3,748.3 1088.9,750.0 1098.5,749.1 1108.0,750.8 1117.6,774.0 1127.2,771.8 1136.8,782.5 1146.3,792.0 1155.9,811.4 1165.5,782.2 1175.0,766.1 1184.6,758.6 1194.2,771.0 1203.8,772.1 1213.3,763.4 1222.9,763.1 1232.5,772.9 1242.1,765.6 1251.7,769.9 1261.2,811.6 1270.8,853.8 1280.4,856.0 1290.0,845.2 1299.5,862.1 1309.1,860.7 1318.7,882.4 1328.2,890.9 1337.8,884.5 1347.4,887.5 1357.0,880.0 1366.5,858.3 1376.1,827.0 1385.7,792.6 1395.3,765.5 1404.8,765.0 1414.4,775.9 1424.0,783.8 1433.6,815.0"/>
</svg>
<div id="top"><i style="left:3.4px;width:24.5px;height:4.6px;background:#fff"></i><i style="left:10px;top:-1px;width:5px;height:1.5px;background:#f88;transform:rotate(35deg)"></i><i style="left:580px;width:58px;height:10px;background:#f2f2f2;border:1px solid #bbb;border-top:0"></i><i style="left:647px;width:58px;height:10px;background:#f2f2f2;border:1px solid #bbb;border-top:0"></i><i style="left:1495px;width:14px;height:8px;background:#f4f4f4;border:1px solid #aaa;border-radius:0 0 0 8px"></i><span style="left:41px">系统</span><span style="left:105px">功能</span><span style="left:171px">报价</span><span style="left:235px">分析</span><span style="left:293px">扩展行情</span><span style="left:385px">资讯</span><span style="left:449px">工具</span><span style="left:515px">帮助</span><span style="left:591px;color:#f00">期权</span><span style="left:658px;color:#f00">港股</span><span style="left:989px">证券交易不显示 - 上证指数</span></div>
<div id="left"></div>
<div class="t" style="left:3px;top:17.3px;font-size:18px">上证指数(日线.前复权)</div>
<div class="t" style="left:211px;top:17.3px">EXPMA(12,50)</div>
<div class="t" style="left:335.5px;top:17.3px;letter-spacing:.15px">EXP1: 2963.74</div>
<div class="t" style="left:464.3px;top:17.3px;color:#e4e400;letter-spacing:.08px">EXP2: 2945.51</div>
<div class="t" style="left:221px;top:43.3px">3288.45</div>
<div class="t" style="left:1003.3px;top:506.4px;letter-spacing:.24px">2733.92</div>
<div class="t" style="left:1123px;top:403.2px;letter-spacing:.33px">2870.49 - 2874.10</div>
<div class="t" style="left:3px;top:544px;letter-spacing:.22px">VOLUME: 149990672.00</div>
<div class="t" style="left:212.6px;top:544px;letter-spacing:.23px">MA5: 157279104.00</div>
<div class="t" style="left:383.3px;top:544px;color:#e4e400;letter-spacing:.26px">MA10: 145444576.00</div>
<div class="t" style="left:3px;top:720px;letter-spacing:.17px">KDJ(9,3,3)</div>
<div class="t" style="left:96.5px;top:720px;letter-spacing:.06px">K: 53.82</div>
<div class="t" style="left:172px;top:720px;color:#e4e400;letter-spacing:.09px">D: 55.02</div>
<div class="t" style="left:248px;top:720px;color:#e400e4;letter-spacing:-.2px">J: 51.41</div>
</body></html>
